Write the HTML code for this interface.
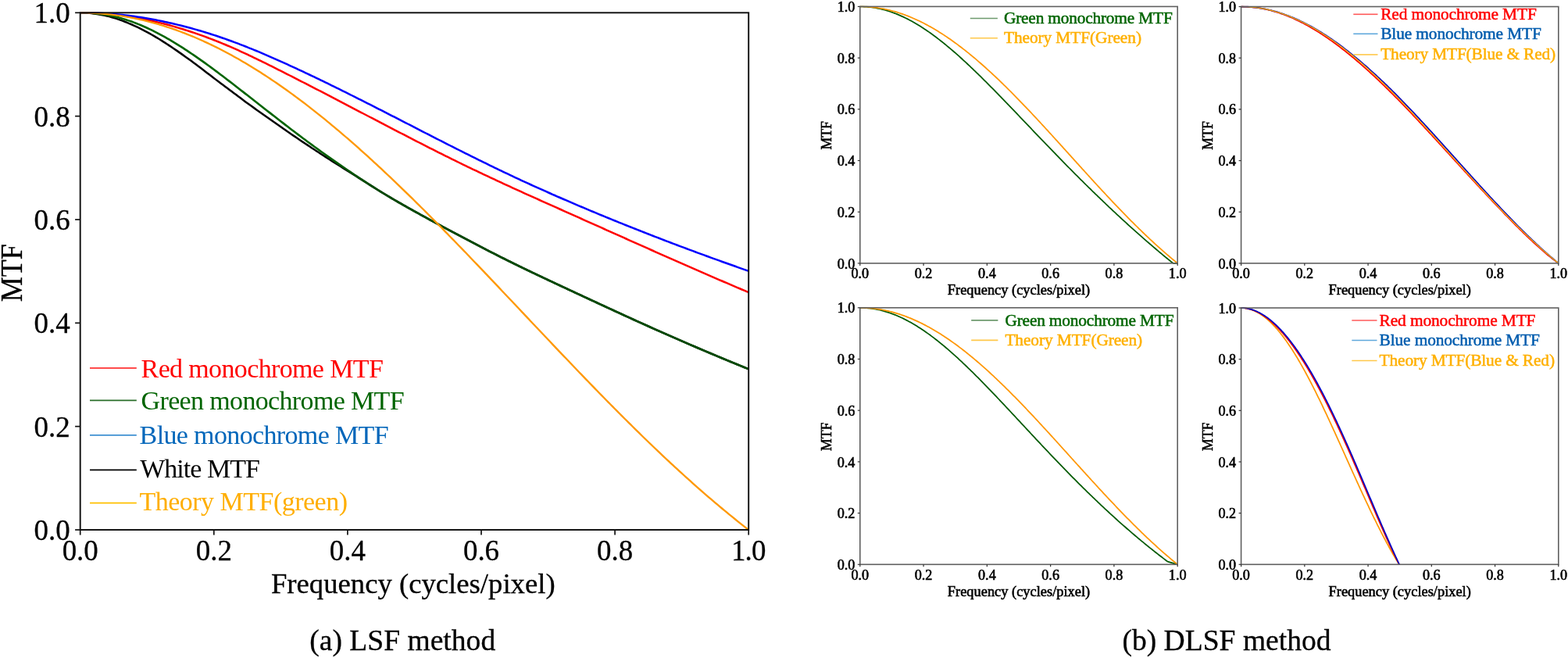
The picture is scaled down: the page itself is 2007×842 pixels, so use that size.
<!DOCTYPE html>
<html><head><meta charset="utf-8"><title>MTF</title>
<style>html,body{margin:0;padding:0;background:#fff;}.bt{stroke:#000;stroke-width:0.3px;}.st{stroke:#000;stroke-width:0.6px;}.sl{stroke-width:0.5px;}body{width:2007px;height:842px;overflow:hidden;position:relative;font-family:'Liberation Serif', serif;}</style>
</head><body>
<svg width="2007" height="842" viewBox="0 0 2007 842" style="position:absolute;left:0;top:0;font-family:'Liberation Serif', serif">
<rect x="0" y="0" width="2007" height="842" fill="#fff"/>
<clipPath id="cl"><rect x="102.7" y="14.8" width="855.5" height="664.7"/></clipPath>
<g clip-path="url(#cl)">
<path d="M102.70,16.30 L105.55,16.31 L108.40,16.34 L111.25,16.38 L114.11,16.45 L116.96,16.53 L119.81,16.64 L122.66,16.76 L125.51,16.91 L128.37,17.07 L131.22,17.25 L134.07,17.46 L136.92,17.68 L139.77,17.93 L142.62,18.19 L145.47,18.48 L148.33,18.79 L151.18,19.12 L154.03,19.48 L156.88,19.85 L159.73,20.25 L162.59,20.67 L165.44,21.12 L168.29,21.58 L171.14,22.06 L173.99,22.57 L176.84,23.09 L179.69,23.63 L182.55,24.20 L185.40,24.78 L188.25,25.37 L191.10,25.99 L193.95,26.62 L196.81,27.27 L199.66,27.94 L202.51,28.63 L205.36,29.34 L208.21,30.06 L211.06,30.80 L213.92,31.55 L216.77,32.32 L219.62,33.11 L222.47,33.92 L225.32,34.74 L228.17,35.58 L231.02,36.43 L233.88,37.30 L236.73,38.19 L239.58,39.09 L242.43,40.01 L245.28,40.95 L248.13,41.91 L250.99,42.88 L253.84,43.87 L256.69,44.87 L259.54,45.89 L262.39,46.93 L265.25,47.99 L268.10,49.06 L270.95,50.15 L273.80,51.25 L276.65,52.38 L279.50,53.51 L282.36,54.67 L285.21,55.84 L288.06,57.02 L290.91,58.23 L293.76,59.45 L296.61,60.68 L299.46,61.93 L302.32,63.20 L305.17,64.48 L308.02,65.78 L310.87,67.09 L313.72,68.41 L316.57,69.74 L319.43,71.08 L322.28,72.43 L325.13,73.79 L327.98,75.16 L330.83,76.53 L333.69,77.92 L336.54,79.32 L339.39,80.72 L342.24,82.13 L345.09,83.54 L347.94,84.97 L350.80,86.40 L353.65,87.83 L356.50,89.27 L359.35,90.71 L362.20,92.15 L365.05,93.60 L367.90,95.05 L370.76,96.50 L373.61,97.95 L376.46,99.41 L379.31,100.86 L382.16,102.32 L385.01,103.78 L387.87,105.24 L390.72,106.70 L393.57,108.17 L396.42,109.63 L399.27,111.10 L402.12,112.56 L404.98,114.03 L407.83,115.50 L410.68,116.98 L413.53,118.45 L416.38,119.93 L419.23,121.41 L422.09,122.89 L424.94,124.38 L427.79,125.86 L430.64,127.35 L433.49,128.84 L436.34,130.33 L439.20,131.82 L442.05,133.32 L444.90,134.81 L447.75,136.31 L450.60,137.80 L453.45,139.29 L456.31,140.79 L459.16,142.28 L462.01,143.77 L464.86,145.26 L467.71,146.76 L470.56,148.25 L473.42,149.74 L476.27,151.23 L479.12,152.72 L481.97,154.20 L484.82,155.69 L487.67,157.18 L490.53,158.66 L493.38,160.15 L496.23,161.63 L499.08,163.11 L501.93,164.59 L504.78,166.07 L507.64,167.55 L510.49,169.03 L513.34,170.50 L516.19,171.98 L519.04,173.45 L521.89,174.92 L524.75,176.39 L527.60,177.86 L530.45,179.33 L533.30,180.79 L536.15,182.25 L539.00,183.72 L541.86,185.17 L544.71,186.63 L547.56,188.08 L550.41,189.53 L553.26,190.98 L556.12,192.42 L558.97,193.86 L561.82,195.29 L564.67,196.72 L567.52,198.15 L570.37,199.57 L573.23,200.99 L576.08,202.40 L578.93,203.81 L581.78,205.21 L584.63,206.61 L587.48,208.00 L590.34,209.39 L593.19,210.77 L596.04,212.15 L598.89,213.53 L601.74,214.90 L604.59,216.26 L607.45,217.63 L610.30,218.98 L613.15,220.34 L616.00,221.69 L618.85,223.04 L621.70,224.39 L624.56,225.73 L627.41,227.07 L630.26,228.41 L633.11,229.74 L635.96,231.07 L638.81,232.39 L641.67,233.72 L644.52,235.04 L647.37,236.35 L650.22,237.67 L653.07,238.97 L655.92,240.28 L658.77,241.58 L661.63,242.88 L664.48,244.18 L667.33,245.48 L670.18,246.77 L673.03,248.06 L675.88,249.35 L678.74,250.63 L681.59,251.91 L684.44,253.20 L687.29,254.47 L690.14,255.75 L693.00,257.03 L695.85,258.31 L698.70,259.58 L701.55,260.86 L704.40,262.13 L707.25,263.41 L710.11,264.69 L712.96,265.96 L715.81,267.24 L718.66,268.51 L721.51,269.79 L724.36,271.06 L727.22,272.34 L730.07,273.62 L732.92,274.89 L735.77,276.17 L738.62,277.44 L741.47,278.72 L744.33,279.99 L747.18,281.27 L750.03,282.55 L752.88,283.82 L755.73,285.10 L758.58,286.37 L761.44,287.65 L764.29,288.92 L767.14,290.20 L769.99,291.47 L772.84,292.75 L775.69,294.03 L778.55,295.30 L781.40,296.58 L784.25,297.85 L787.10,299.13 L789.95,300.40 L792.80,301.68 L795.65,302.96 L798.51,304.23 L801.36,305.51 L804.21,306.78 L807.06,308.05 L809.91,309.33 L812.76,310.60 L815.62,311.87 L818.47,313.15 L821.32,314.42 L824.17,315.69 L827.02,316.96 L829.88,318.23 L832.73,319.50 L835.58,320.76 L838.43,322.03 L841.28,323.30 L844.13,324.56 L846.99,325.82 L849.84,327.09 L852.69,328.35 L855.54,329.61 L858.39,330.87 L861.24,332.13 L864.10,333.39 L866.95,334.64 L869.80,335.90 L872.65,337.16 L875.50,338.41 L878.35,339.66 L881.21,340.91 L884.06,342.16 L886.91,343.41 L889.76,344.66 L892.61,345.91 L895.46,347.15 L898.32,348.40 L901.17,349.64 L904.02,350.88 L906.87,352.12 L909.72,353.36 L912.57,354.59 L915.43,355.83 L918.28,357.06 L921.13,358.29 L923.98,359.52 L926.83,360.74 L929.68,361.97 L932.53,363.19 L935.39,364.41 L938.24,365.63 L941.09,366.85 L943.94,368.06 L946.79,369.27 L949.64,370.48 L952.50,371.69 L955.35,372.90 L958.20,374.10" fill="none" stroke="#ff0000" stroke-width="2.5" stroke-linejoin="round" stroke-linecap="butt"/>
<path d="M102.70,16.30 L105.55,16.35 L108.40,16.46 L111.25,16.62 L114.11,16.84 L116.96,17.11 L119.81,17.43 L122.66,17.80 L125.51,18.22 L128.37,18.68 L131.22,19.20 L134.07,19.78 L136.92,20.43 L139.77,21.15 L142.62,21.93 L145.47,22.77 L148.33,23.67 L151.18,24.62 L154.03,25.62 L156.88,26.66 L159.73,27.74 L162.59,28.86 L165.44,30.04 L168.29,31.26 L171.14,32.54 L173.99,33.85 L176.84,35.22 L179.69,36.62 L182.55,38.07 L185.40,39.56 L188.25,41.09 L191.10,42.66 L193.95,44.26 L196.81,45.90 L199.66,47.58 L202.51,49.28 L205.36,51.03 L208.21,52.82 L211.06,54.63 L213.92,56.48 L216.77,58.36 L219.62,60.27 L222.47,62.20 L225.32,64.15 L228.17,66.13 L231.02,68.12 L233.88,70.13 L236.73,72.15 L239.58,74.19 L242.43,76.23 L245.28,78.31 L248.13,80.42 L250.99,82.54 L253.84,84.69 L256.69,86.85 L259.54,89.03 L262.39,91.21 L265.25,93.40 L268.10,95.59 L270.95,97.78 L273.80,99.96 L276.65,102.13 L279.50,104.28 L282.36,106.42 L285.21,108.56 L288.06,110.69 L290.91,112.82 L293.76,114.95 L296.61,117.08 L299.46,119.21 L302.32,121.35 L305.17,123.48 L308.02,125.62 L310.87,127.76 L313.72,129.88 L316.57,131.97 L319.43,134.04 L322.28,136.09 L325.13,138.13 L327.98,140.16 L330.83,142.19 L333.69,144.22 L336.54,146.26 L339.39,148.29 L342.24,150.32 L345.09,152.33 L347.94,154.35 L350.80,156.35 L353.65,158.35 L356.50,160.35 L359.35,162.34 L362.20,164.33 L365.05,166.30 L367.90,168.27 L370.76,170.23 L373.61,172.18 L376.46,174.12 L379.31,176.06 L382.16,177.99 L385.01,179.92 L387.87,181.84 L390.72,183.75 L393.57,185.66 L396.42,187.55 L399.27,189.44 L402.12,191.32 L404.98,193.20 L407.83,195.07 L410.68,196.93 L413.53,198.79 L416.38,200.64 L419.23,202.47 L422.09,204.30 L424.94,206.11 L427.79,207.91 L430.64,209.70 L433.49,211.49 L436.34,213.28 L439.20,215.07 L442.05,216.86 L444.90,218.64 L447.75,220.42 L450.60,222.20 L453.45,223.99 L456.31,225.79 L459.16,227.58 L462.01,229.36 L464.86,231.15 L467.71,232.95 L470.56,234.78 L473.42,236.60 L476.27,238.42 L479.12,240.21 L481.97,242.00 L484.82,243.77 L487.67,245.52 L490.53,247.26 L493.38,248.99 L496.23,250.70 L499.08,252.40 L501.93,254.08 L504.78,255.75 L507.64,257.41 L510.49,259.06 L513.34,260.70 L516.19,262.33 L519.04,263.94 L521.89,265.55 L524.75,267.15 L527.60,268.74 L530.45,270.33 L533.30,271.91 L536.15,273.48 L539.00,275.05 L541.86,276.62 L544.71,278.18 L547.56,279.74 L550.41,281.29 L553.26,282.84 L556.12,284.39 L558.97,285.93 L561.82,287.47 L564.67,289.01 L567.52,290.54 L570.37,292.07 L573.23,293.60 L576.08,295.12 L578.93,296.64 L581.78,298.16 L584.63,299.68 L587.48,301.19 L590.34,302.70 L593.19,304.21 L596.04,305.72 L598.89,307.22 L601.74,308.72 L604.59,310.21 L607.45,311.71 L610.30,313.19 L613.15,314.68 L616.00,316.16 L618.85,317.64 L621.70,319.11 L624.56,320.58 L627.41,322.04 L630.26,323.50 L633.11,324.96 L635.96,326.41 L638.81,327.85 L641.67,329.29 L644.52,330.72 L647.37,332.14 L650.22,333.56 L653.07,334.98 L655.92,336.39 L658.77,337.79 L661.63,339.19 L664.48,340.58 L667.33,341.97 L670.18,343.35 L673.03,344.72 L675.88,346.10 L678.74,347.46 L681.59,348.83 L684.44,350.18 L687.29,351.54 L690.14,352.89 L693.00,354.24 L695.85,355.58 L698.70,356.92 L701.55,358.26 L704.40,359.60 L707.25,360.94 L710.11,362.28 L712.96,363.61 L715.81,364.95 L718.66,366.28 L721.51,367.61 L724.36,368.94 L727.22,370.27 L730.07,371.60 L732.92,372.93 L735.77,374.26 L738.62,375.59 L741.47,376.91 L744.33,378.24 L747.18,379.56 L750.03,380.89 L752.88,382.21 L755.73,383.54 L758.58,384.86 L761.44,386.18 L764.29,387.50 L767.14,388.82 L769.99,390.14 L772.84,391.46 L775.69,392.78 L778.55,394.09 L781.40,395.41 L784.25,396.72 L787.10,398.04 L789.95,399.35 L792.80,400.66 L795.65,401.97 L798.51,403.28 L801.36,404.58 L804.21,405.89 L807.06,407.19 L809.91,408.49 L812.76,409.78 L815.62,411.08 L818.47,412.37 L821.32,413.66 L824.17,414.95 L827.02,416.23 L829.88,417.51 L832.73,418.79 L835.58,420.07 L838.43,421.34 L841.28,422.61 L844.13,423.88 L846.99,425.14 L849.84,426.40 L852.69,427.66 L855.54,428.92 L858.39,430.17 L861.24,431.42 L864.10,432.67 L866.95,433.91 L869.80,435.16 L872.65,436.40 L875.50,437.63 L878.35,438.87 L881.21,440.10 L884.06,441.33 L886.91,442.55 L889.76,443.77 L892.61,445.00 L895.46,446.21 L898.32,447.43 L901.17,448.64 L904.02,449.85 L906.87,451.06 L909.72,452.26 L912.57,453.46 L915.43,454.66 L918.28,455.86 L921.13,457.05 L923.98,458.24 L926.83,459.43 L929.68,460.61 L932.53,461.79 L935.39,462.97 L938.24,464.15 L941.09,465.32 L943.94,466.49 L946.79,467.66 L949.64,468.82 L952.50,469.99 L955.35,471.14 L958.20,472.30" fill="none" stroke="#000000" stroke-width="2.5" stroke-linejoin="round" stroke-linecap="butt"/>
<path d="M102.70,16.30 L105.55,16.32 L108.40,16.38 L111.25,16.48 L114.11,16.62 L116.96,16.80 L119.81,17.03 L122.66,17.29 L125.51,17.60 L128.37,17.95 L131.22,18.34 L134.07,18.78 L136.92,19.26 L139.77,19.79 L142.62,20.35 L145.47,20.97 L148.33,21.63 L151.18,22.34 L154.03,23.10 L156.88,23.91 L159.73,24.76 L162.59,25.66 L165.44,26.61 L168.29,27.60 L171.14,28.64 L173.99,29.72 L176.84,30.84 L179.69,32.00 L182.55,33.21 L185.40,34.46 L188.25,35.75 L191.10,37.08 L193.95,38.45 L196.81,39.86 L199.66,41.30 L202.51,42.79 L205.36,44.30 L208.21,45.85 L211.06,47.44 L213.92,49.05 L216.77,50.70 L219.62,52.38 L222.47,54.08 L225.32,55.82 L228.17,57.59 L231.02,59.38 L233.88,61.20 L236.73,63.04 L239.58,64.91 L242.43,66.80 L245.28,68.72 L248.13,70.65 L250.99,72.61 L253.84,74.60 L256.69,76.60 L259.54,78.63 L262.39,80.68 L265.25,82.74 L268.10,84.82 L270.95,86.92 L273.80,89.03 L276.65,91.15 L279.50,93.28 L282.36,95.43 L285.21,97.58 L288.06,99.75 L290.91,101.92 L293.76,104.11 L296.61,106.30 L299.46,108.51 L302.32,110.72 L305.17,112.94 L308.02,115.16 L310.87,117.39 L313.72,119.62 L316.57,121.85 L319.43,124.08 L322.28,126.31 L325.13,128.54 L327.98,130.78 L330.83,133.00 L333.69,135.23 L336.54,137.46 L339.39,139.68 L342.24,141.91 L345.09,144.13 L347.94,146.35 L350.80,148.56 L353.65,150.78 L356.50,152.99 L359.35,155.19 L362.20,157.40 L365.05,159.60 L367.90,161.80 L370.76,163.98 L373.61,166.17 L376.46,168.34 L379.31,170.50 L382.16,172.66 L385.01,174.81 L387.87,176.94 L390.72,179.07 L393.57,181.19 L396.42,183.29 L399.27,185.39 L402.12,187.48 L404.98,189.56 L407.83,191.63 L410.68,193.69 L413.53,195.74 L416.38,197.79 L419.23,199.82 L422.09,201.85 L424.94,203.87 L427.79,205.88 L430.64,207.88 L433.49,209.87 L436.34,211.85 L439.20,213.82 L442.05,215.78 L444.90,217.74 L447.75,219.68 L450.60,221.61 L453.45,223.53 L456.31,225.44 L459.16,227.33 L462.01,229.21 L464.86,231.08 L467.71,232.94 L470.56,234.78 L473.42,236.60 L476.27,238.42 L479.12,240.21 L481.97,242.00 L484.82,243.77 L487.67,245.52 L490.53,247.26 L493.38,248.99 L496.23,250.70 L499.08,252.40 L501.93,254.08 L504.78,255.75 L507.64,257.41 L510.49,259.06 L513.34,260.70 L516.19,262.33 L519.04,263.94 L521.89,265.55 L524.75,267.15 L527.60,268.74 L530.45,270.33 L533.30,271.91 L536.15,273.48 L539.00,275.05 L541.86,276.62 L544.71,278.18 L547.56,279.74 L550.41,281.29 L553.26,282.84 L556.12,284.39 L558.97,285.93 L561.82,287.47 L564.67,289.01 L567.52,290.54 L570.37,292.07 L573.23,293.60 L576.08,295.12 L578.93,296.64 L581.78,298.16 L584.63,299.68 L587.48,301.19 L590.34,302.70 L593.19,304.21 L596.04,305.72 L598.89,307.22 L601.74,308.72 L604.59,310.21 L607.45,311.71 L610.30,313.19 L613.15,314.68 L616.00,316.16 L618.85,317.64 L621.70,319.11 L624.56,320.58 L627.41,322.04 L630.26,323.50 L633.11,324.96 L635.96,326.41 L638.81,327.85 L641.67,329.29 L644.52,330.72 L647.37,332.14 L650.22,333.56 L653.07,334.98 L655.92,336.39 L658.77,337.79 L661.63,339.19 L664.48,340.58 L667.33,341.97 L670.18,343.35 L673.03,344.72 L675.88,346.10 L678.74,347.46 L681.59,348.83 L684.44,350.18 L687.29,351.54 L690.14,352.89 L693.00,354.24 L695.85,355.58 L698.70,356.92 L701.55,358.26 L704.40,359.60 L707.25,360.94 L710.11,362.28 L712.96,363.61 L715.81,364.95 L718.66,366.28 L721.51,367.61 L724.36,368.94 L727.22,370.27 L730.07,371.60 L732.92,372.93 L735.77,374.26 L738.62,375.59 L741.47,376.91 L744.33,378.24 L747.18,379.56 L750.03,380.89 L752.88,382.21 L755.73,383.54 L758.58,384.86 L761.44,386.18 L764.29,387.50 L767.14,388.82 L769.99,390.14 L772.84,391.46 L775.69,392.78 L778.55,394.09 L781.40,395.41 L784.25,396.72 L787.10,398.04 L789.95,399.35 L792.80,400.66 L795.65,401.97 L798.51,403.28 L801.36,404.58 L804.21,405.89 L807.06,407.19 L809.91,408.49 L812.76,409.78 L815.62,411.08 L818.47,412.37 L821.32,413.66 L824.17,414.95 L827.02,416.23 L829.88,417.51 L832.73,418.79 L835.58,420.07 L838.43,421.34 L841.28,422.61 L844.13,423.88 L846.99,425.14 L849.84,426.40 L852.69,427.66 L855.54,428.92 L858.39,430.17 L861.24,431.42 L864.10,432.67 L866.95,433.91 L869.80,435.16 L872.65,436.40 L875.50,437.63 L878.35,438.87 L881.21,440.10 L884.06,441.33 L886.91,442.55 L889.76,443.77 L892.61,445.00 L895.46,446.21 L898.32,447.43 L901.17,448.64 L904.02,449.85 L906.87,451.06 L909.72,452.26 L912.57,453.46 L915.43,454.66 L918.28,455.86 L921.13,457.05 L923.98,458.24 L926.83,459.43 L929.68,460.61 L932.53,461.79 L935.39,462.97 L938.24,464.15 L941.09,465.32 L943.94,466.49 L946.79,467.66 L949.64,468.82 L952.50,469.99 L955.35,471.14 L958.20,472.30" fill="none" stroke="#006400" stroke-width="2.6" stroke-linejoin="round" stroke-linecap="butt"/>
<linearGradient id="mg" gradientUnits="userSpaceOnUse" x1="405" y1="0" x2="475" y2="0"><stop offset="0" stop-color="#000" stop-opacity="0"/><stop offset="1" stop-color="#000" stop-opacity="0.25"/></linearGradient>
<path d="M405.00,189.57 L407.51,191.40 L410.03,193.22 L412.54,195.03 L415.06,196.84 L417.57,198.64 L420.09,200.43 L422.60,202.21 L425.12,203.99 L427.63,205.76 L430.15,207.53 L432.66,209.29 L435.17,211.04 L437.69,212.78 L440.20,214.51 L442.72,216.24 L445.23,217.96 L447.75,219.67 L450.26,221.38 L452.78,223.07 L455.29,224.76 L457.81,226.43 L460.32,228.10 L462.83,229.75 L465.35,231.40 L467.86,233.03 L470.38,234.66 L472.89,236.27 L475.41,237.87 L477.92,239.46 L480.44,241.04 L482.95,242.61 L485.47,244.16 L487.98,245.71 L490.49,247.24 L493.01,248.76 L495.52,250.27 L498.04,251.78 L500.55,253.27 L503.07,254.75 L505.58,256.22 L508.10,257.68 L510.61,259.13 L513.13,260.58 L515.64,262.01 L518.15,263.44 L520.67,264.86 L523.18,266.27 L525.70,267.68 L528.21,269.08 L530.73,270.48 L533.24,271.88 L535.76,273.26 L538.27,274.65 L540.79,276.03 L543.30,277.41 L545.81,278.79 L548.33,280.16 L550.84,281.53 L553.36,282.89 L555.87,284.26 L558.39,285.62 L560.90,286.98 L563.42,288.33 L565.93,289.69 L568.45,291.04 L570.96,292.39 L573.47,293.73 L575.99,295.08 L578.50,296.42 L581.02,297.76 L583.53,299.10 L586.05,300.43 L588.56,301.77 L591.08,303.10 L593.59,304.43 L596.11,305.75 L598.62,307.08 L601.13,308.40 L603.65,309.72 L606.16,311.03 L608.68,312.35 L611.19,313.66 L613.71,314.97 L616.22,316.28 L618.74,317.58 L621.25,318.88 L623.77,320.17 L626.28,321.47 L628.79,322.75 L631.31,324.04 L633.82,325.32 L636.34,326.60 L638.85,327.87 L641.37,329.14 L643.88,330.40 L646.40,331.66 L648.91,332.91 L651.43,334.16 L653.94,335.41 L656.45,336.65 L658.97,337.89 L661.48,339.12 L664.00,340.35 L666.51,341.57 L669.03,342.79 L671.54,344.01 L674.06,345.22 L676.57,346.43 L679.09,347.63 L681.60,348.83 L684.11,350.03 L686.63,351.22 L689.14,352.42 L691.66,353.61 L694.17,354.79 L696.69,355.98 L699.20,357.16 L701.72,358.34 L704.23,359.52 L706.75,360.70 L709.26,361.88 L711.77,363.06 L714.29,364.24 L716.80,365.41 L719.32,366.59 L721.83,367.76 L724.35,368.93 L726.86,370.11 L729.38,371.28 L731.89,372.45 L734.41,373.62 L736.92,374.79 L739.43,375.96 L741.95,377.13 L744.46,378.30 L746.98,379.47 L749.49,380.64 L752.01,381.81 L754.52,382.97 L757.04,384.14 L759.55,385.31 L762.07,386.47 L764.58,387.64 L767.09,388.80 L769.61,389.96 L772.12,391.13 L774.64,392.29 L777.15,393.45 L779.67,394.61 L782.18,395.77 L784.70,396.93 L787.21,398.09 L789.73,399.25 L792.24,400.40 L794.75,401.56 L797.27,402.71 L799.78,403.86 L802.30,405.01 L804.81,406.16 L807.33,407.31 L809.84,408.45 L812.36,409.60 L814.87,410.74 L817.39,411.88 L819.90,413.02 L822.41,414.15 L824.93,415.29 L827.44,416.42 L829.96,417.55 L832.47,418.68 L834.99,419.80 L837.50,420.93 L840.02,422.05 L842.53,423.17 L845.05,424.28 L847.56,425.40 L850.07,426.51 L852.59,427.62 L855.10,428.73 L857.62,429.83 L860.13,430.94 L862.65,432.04 L865.16,433.14 L867.68,434.23 L870.19,435.33 L872.71,436.42 L875.22,437.51 L877.73,438.60 L880.25,439.68 L882.76,440.77 L885.28,441.85 L887.79,442.93 L890.31,444.01 L892.82,445.09 L895.34,446.16 L897.85,447.23 L900.37,448.30 L902.88,449.37 L905.39,450.43 L907.91,451.50 L910.42,452.56 L912.94,453.62 L915.45,454.67 L917.97,455.73 L920.48,456.78 L923.00,457.83 L925.51,458.88 L928.03,459.92 L930.54,460.97 L933.05,462.01 L935.57,463.05 L938.08,464.08 L940.60,465.12 L943.11,466.15 L945.63,467.18 L948.14,468.21 L950.66,469.24 L953.17,470.26 L955.69,471.28 L958.20,472.30" fill="none" stroke="url(#mg)" stroke-width="2.9"/>
<path d="M102.70,16.30 L105.55,16.31 L108.40,16.33 L111.25,16.36 L114.11,16.41 L116.96,16.48 L119.81,16.56 L122.66,16.65 L125.51,16.76 L128.37,16.89 L131.22,17.03 L134.07,17.19 L136.92,17.36 L139.77,17.56 L142.62,17.76 L145.47,17.99 L148.33,18.23 L151.18,18.49 L154.03,18.77 L156.88,19.07 L159.73,19.38 L162.59,19.72 L165.44,20.07 L168.29,20.44 L171.14,20.83 L173.99,21.23 L176.84,21.65 L179.69,22.09 L182.55,22.54 L185.40,23.01 L188.25,23.49 L191.10,23.99 L193.95,24.50 L196.81,25.03 L199.66,25.58 L202.51,26.14 L205.36,26.71 L208.21,27.30 L211.06,27.91 L213.92,28.53 L216.77,29.16 L219.62,29.81 L222.47,30.47 L225.32,31.15 L228.17,31.84 L231.02,32.54 L233.88,33.26 L236.73,34.00 L239.58,34.75 L242.43,35.51 L245.28,36.29 L248.13,37.08 L250.99,37.89 L253.84,38.71 L256.69,39.54 L259.54,40.39 L262.39,41.26 L265.25,42.14 L268.10,43.03 L270.95,43.94 L273.80,44.86 L276.65,45.80 L279.50,46.75 L282.36,47.72 L285.21,48.70 L288.06,49.69 L290.91,50.70 L293.76,51.72 L296.61,52.76 L299.46,53.81 L302.32,54.87 L305.17,55.95 L308.02,57.05 L310.87,58.15 L313.72,59.27 L316.57,60.40 L319.43,61.54 L322.28,62.69 L325.13,63.85 L327.98,65.02 L330.83,66.21 L333.69,67.40 L336.54,68.61 L339.39,69.83 L342.24,71.05 L345.09,72.29 L347.94,73.53 L350.80,74.78 L353.65,76.05 L356.50,77.32 L359.35,78.59 L362.20,79.88 L365.05,81.17 L367.90,82.47 L370.76,83.77 L373.61,85.08 L376.46,86.39 L379.31,87.72 L382.16,89.04 L385.01,90.37 L387.87,91.71 L390.72,93.05 L393.57,94.40 L396.42,95.75 L399.27,97.11 L402.12,98.47 L404.98,99.83 L407.83,101.20 L410.68,102.58 L413.53,103.96 L416.38,105.34 L419.23,106.73 L422.09,108.12 L424.94,109.52 L427.79,110.92 L430.64,112.33 L433.49,113.73 L436.34,115.15 L439.20,116.56 L442.05,117.98 L444.90,119.40 L447.75,120.83 L450.60,122.25 L453.45,123.68 L456.31,125.11 L459.16,126.55 L462.01,127.98 L464.86,129.42 L467.71,130.86 L470.56,132.30 L473.42,133.74 L476.27,135.19 L479.12,136.63 L481.97,138.08 L484.82,139.53 L487.67,140.98 L490.53,142.44 L493.38,143.89 L496.23,145.35 L499.08,146.81 L501.93,148.27 L504.78,149.73 L507.64,151.19 L510.49,152.65 L513.34,154.12 L516.19,155.58 L519.04,157.05 L521.89,158.51 L524.75,159.98 L527.60,161.45 L530.45,162.91 L533.30,164.38 L536.15,165.85 L539.00,167.31 L541.86,168.78 L544.71,170.24 L547.56,171.70 L550.41,173.17 L553.26,174.63 L556.12,176.09 L558.97,177.54 L561.82,179.00 L564.67,180.45 L567.52,181.90 L570.37,183.35 L573.23,184.80 L576.08,186.25 L578.93,187.69 L581.78,189.13 L584.63,190.56 L587.48,192.00 L590.34,193.43 L593.19,194.86 L596.04,196.28 L598.89,197.71 L601.74,199.13 L604.59,200.54 L607.45,201.96 L610.30,203.37 L613.15,204.78 L616.00,206.18 L618.85,207.58 L621.70,208.98 L624.56,210.38 L627.41,211.77 L630.26,213.16 L633.11,214.54 L635.96,215.92 L638.81,217.29 L641.67,218.66 L644.52,220.03 L647.37,221.39 L650.22,222.74 L653.07,224.09 L655.92,225.44 L658.77,226.78 L661.63,228.11 L664.48,229.44 L667.33,230.77 L670.18,232.08 L673.03,233.40 L675.88,234.70 L678.74,236.01 L681.59,237.30 L684.44,238.60 L687.29,239.88 L690.14,241.17 L693.00,242.44 L695.85,243.72 L698.70,244.98 L701.55,246.25 L704.40,247.51 L707.25,248.77 L710.11,250.02 L712.96,251.27 L715.81,252.51 L718.66,253.75 L721.51,254.99 L724.36,256.22 L727.22,257.45 L730.07,258.68 L732.92,259.90 L735.77,261.12 L738.62,262.33 L741.47,263.55 L744.33,264.76 L747.18,265.96 L750.03,267.16 L752.88,268.36 L755.73,269.55 L758.58,270.75 L761.44,271.93 L764.29,273.12 L767.14,274.30 L769.99,275.48 L772.84,276.65 L775.69,277.82 L778.55,278.99 L781.40,280.16 L784.25,281.32 L787.10,282.48 L789.95,283.64 L792.80,284.79 L795.65,285.94 L798.51,287.08 L801.36,288.23 L804.21,289.37 L807.06,290.51 L809.91,291.64 L812.76,292.77 L815.62,293.90 L818.47,295.03 L821.32,296.15 L824.17,297.27 L827.02,298.39 L829.88,299.50 L832.73,300.61 L835.58,301.72 L838.43,302.82 L841.28,303.93 L844.13,305.03 L846.99,306.13 L849.84,307.22 L852.69,308.31 L855.54,309.40 L858.39,310.49 L861.24,311.57 L864.10,312.65 L866.95,313.73 L869.80,314.80 L872.65,315.88 L875.50,316.95 L878.35,318.01 L881.21,319.08 L884.06,320.14 L886.91,321.20 L889.76,322.25 L892.61,323.31 L895.46,324.36 L898.32,325.41 L901.17,326.45 L904.02,327.49 L906.87,328.53 L909.72,329.57 L912.57,330.60 L915.43,331.64 L918.28,332.67 L921.13,333.69 L923.98,334.72 L926.83,335.74 L929.68,336.76 L932.53,337.77 L935.39,338.79 L938.24,339.80 L941.09,340.80 L943.94,341.81 L946.79,342.81 L949.64,343.81 L952.50,344.81 L955.35,345.81 L958.20,346.80" fill="none" stroke="#0000ff" stroke-width="2.5" stroke-linejoin="round" stroke-linecap="butt"/>
<path d="M102.70,16.30 L105.55,16.31 L108.40,16.35 L111.25,16.41 L114.11,16.49 L116.96,16.60 L119.81,16.74 L122.66,16.89 L125.51,17.07 L128.37,17.28 L131.22,17.51 L134.07,17.76 L136.92,18.04 L139.77,18.34 L142.62,18.67 L145.48,19.02 L148.33,19.39 L151.18,19.79 L154.03,20.21 L156.88,20.66 L159.73,21.13 L162.59,21.62 L165.44,22.14 L168.29,22.68 L171.14,23.24 L173.99,23.83 L176.84,24.45 L179.69,25.08 L182.55,25.74 L185.40,26.42 L188.25,27.13 L191.10,27.86 L193.95,28.61 L196.81,29.39 L199.66,30.19 L202.51,31.02 L205.36,31.86 L208.21,32.73 L211.06,33.63 L213.92,34.54 L216.77,35.48 L219.62,36.44 L222.47,37.43 L225.32,38.44 L228.17,39.47 L231.03,40.52 L233.88,41.60 L236.73,42.69 L239.58,43.81 L242.43,44.96 L245.28,46.12 L248.13,47.31 L250.99,48.52 L253.84,49.75 L256.69,51.01 L259.54,52.28 L262.39,53.58 L265.25,54.90 L268.10,56.24 L270.95,57.60 L273.80,58.99 L276.65,60.39 L279.50,61.82 L282.36,63.27 L285.21,64.74 L288.06,66.23 L290.91,67.74 L293.76,69.27 L296.61,70.82 L299.47,72.39 L302.32,73.99 L305.17,75.60 L308.02,77.24 L310.87,78.89 L313.72,80.57 L316.57,82.26 L319.43,83.98 L322.28,85.71 L325.13,87.46 L327.98,89.24 L330.83,91.03 L333.69,92.84 L336.54,94.67 L339.39,96.52 L342.24,98.39 L345.09,100.28 L347.94,102.19 L350.80,104.11 L353.65,106.06 L356.50,108.02 L359.35,110.00 L362.20,112.00 L365.05,114.02 L367.90,116.05 L370.76,118.10 L373.61,120.17 L376.46,122.26 L379.31,124.36 L382.16,126.48 L385.01,128.62 L387.87,130.78 L390.72,132.95 L393.57,135.14 L396.42,137.34 L399.27,139.57 L402.12,141.80 L404.98,144.06 L407.83,146.33 L410.68,148.61 L413.53,150.91 L416.38,153.23 L419.24,155.56 L422.09,157.91 L424.94,160.27 L427.79,162.65 L430.64,165.04 L433.49,167.44 L436.35,169.86 L439.20,172.30 L442.05,174.75 L444.90,177.21 L447.75,179.68 L450.60,182.17 L453.46,184.68 L456.31,187.19 L459.16,189.72 L462.01,192.27 L464.86,194.82 L467.71,197.39 L470.57,199.97 L473.42,202.56 L476.27,205.17 L479.12,207.78 L481.97,210.41 L484.82,213.05 L487.68,215.71 L490.53,218.37 L493.38,221.04 L496.23,223.73 L499.08,226.42 L501.93,229.13 L504.79,231.85 L507.64,234.58 L510.49,237.31 L513.34,240.06 L516.19,242.82 L519.04,245.59 L521.90,248.36 L524.75,251.15 L527.60,253.94 L530.45,256.75 L533.30,259.56 L536.15,262.38 L539.00,265.21 L541.86,268.05 L544.71,270.90 L547.56,273.75 L550.41,276.61 L553.26,279.48 L556.12,282.36 L558.97,285.24 L561.82,288.13 L564.67,291.03 L567.52,293.93 L570.37,296.84 L573.23,299.76 L576.08,302.68 L578.93,305.61 L581.78,308.54 L584.63,311.48 L587.48,314.43 L590.34,317.38 L593.19,320.34 L596.04,323.30 L598.89,326.26 L601.74,329.23 L604.59,332.20 L607.45,335.18 L610.30,338.16 L613.15,341.15 L616.00,344.14 L618.85,347.13 L621.70,350.13 L624.56,353.13 L627.41,356.13 L630.26,359.13 L633.11,362.14 L635.96,365.15 L638.81,368.16 L641.67,371.17 L644.52,374.19 L647.37,377.20 L650.22,380.22 L653.07,383.24 L655.92,386.26 L658.78,389.28 L661.63,392.30 L664.48,395.32 L667.33,398.34 L670.18,401.37 L673.03,404.39 L675.89,407.41 L678.74,410.43 L681.59,413.45 L684.44,416.47 L687.29,419.49 L690.14,422.51 L693.00,425.53 L695.85,428.55 L698.70,431.56 L701.55,434.57 L704.40,437.58 L707.25,440.59 L710.11,443.60 L712.96,446.60 L715.81,449.60 L718.66,452.60 L721.51,455.59 L724.36,458.58 L727.22,461.57 L730.07,464.56 L732.92,467.54 L735.77,470.51 L738.62,473.49 L741.47,476.46 L744.33,479.42 L747.18,482.38 L750.03,485.34 L752.88,488.29 L755.73,491.23 L758.58,494.17 L761.44,497.10 L764.29,500.03 L767.14,502.96 L769.99,505.87 L772.84,508.79 L775.69,511.69 L778.55,514.59 L781.40,517.48 L784.25,520.37 L787.10,523.25 L789.95,526.12 L792.80,528.98 L795.66,531.84 L798.51,534.69 L801.36,537.53 L804.21,540.37 L807.06,543.19 L809.91,546.01 L812.77,548.82 L815.62,551.62 L818.47,554.42 L821.32,557.20 L824.17,559.98 L827.02,562.75 L829.88,565.50 L832.73,568.25 L835.58,570.99 L838.43,573.72 L841.28,576.44 L844.13,579.15 L846.99,581.85 L849.84,584.54 L852.69,587.22 L855.54,589.89 L858.39,592.55 L861.24,595.20 L864.10,597.83 L866.95,600.46 L869.80,603.08 L872.65,605.68 L875.50,608.27 L878.35,610.86 L881.21,613.43 L884.06,615.98 L886.91,618.53 L889.76,621.06 L892.61,623.59 L895.46,626.10 L898.32,628.60 L901.17,631.08 L904.02,633.55 L906.87,636.01 L909.72,638.46 L912.57,640.90 L915.43,643.32 L918.28,645.73 L921.13,648.12 L923.98,650.50 L926.83,652.87 L929.68,655.22 L932.54,657.57 L935.39,659.89 L938.24,662.21 L941.09,664.50 L943.94,666.79 L946.79,669.06 L949.65,671.32 L952.50,673.56 L955.35,675.79 L958.20,678.00" fill="none" stroke="#ff9800" stroke-width="2.3" stroke-linejoin="round" stroke-linecap="butt"/>
</g>
<rect x="102.7" y="16.3" width="855.50" height="661.70" fill="none" stroke="#111" stroke-width="1.95"/>
<line x1="102.70" y1="678.0" x2="102.70" y2="684.6" stroke="#111" stroke-width="1.7"/>
<line x1="96.10000000000001" y1="678.00" x2="102.7" y2="678.00" stroke="#111" stroke-width="1.7"/>
<text class="bt" x="102.70" y="717.2" font-size="36.9" text-anchor="middle" fill="#000">0.0</text>
<text class="bt" x="89.6" y="691.00" font-size="36.9" text-anchor="end" fill="#000">0.0</text>
<line x1="273.80" y1="678.0" x2="273.80" y2="684.6" stroke="#111" stroke-width="1.7"/>
<line x1="96.10000000000001" y1="545.66" x2="102.7" y2="545.66" stroke="#111" stroke-width="1.7"/>
<text class="bt" x="273.80" y="717.2" font-size="36.9" text-anchor="middle" fill="#000">0.2</text>
<text class="bt" x="89.6" y="558.66" font-size="36.9" text-anchor="end" fill="#000">0.2</text>
<line x1="444.90" y1="678.0" x2="444.90" y2="684.6" stroke="#111" stroke-width="1.7"/>
<line x1="96.10000000000001" y1="413.32" x2="102.7" y2="413.32" stroke="#111" stroke-width="1.7"/>
<text class="bt" x="444.90" y="717.2" font-size="36.9" text-anchor="middle" fill="#000">0.4</text>
<text class="bt" x="89.6" y="426.32" font-size="36.9" text-anchor="end" fill="#000">0.4</text>
<line x1="616.00" y1="678.0" x2="616.00" y2="684.6" stroke="#111" stroke-width="1.7"/>
<line x1="96.10000000000001" y1="280.98" x2="102.7" y2="280.98" stroke="#111" stroke-width="1.7"/>
<text class="bt" x="616.00" y="717.2" font-size="36.9" text-anchor="middle" fill="#000">0.6</text>
<text class="bt" x="89.6" y="293.98" font-size="36.9" text-anchor="end" fill="#000">0.6</text>
<line x1="787.10" y1="678.0" x2="787.10" y2="684.6" stroke="#111" stroke-width="1.7"/>
<line x1="96.10000000000001" y1="148.64" x2="102.7" y2="148.64" stroke="#111" stroke-width="1.7"/>
<text class="bt" x="787.10" y="717.2" font-size="36.9" text-anchor="middle" fill="#000">0.8</text>
<text class="bt" x="89.6" y="161.64" font-size="36.9" text-anchor="end" fill="#000">0.8</text>
<line x1="958.20" y1="678.0" x2="958.20" y2="684.6" stroke="#111" stroke-width="1.7"/>
<line x1="96.10000000000001" y1="16.30" x2="102.7" y2="16.30" stroke="#111" stroke-width="1.7"/>
<text class="bt" x="957.75" y="717.2" font-size="36.9" text-anchor="middle" fill="#000" letter-spacing="-0.9">1.0</text>
<text class="bt" x="89.6" y="29.30" font-size="36.9" text-anchor="end" fill="#000">1.0</text>
<text class="bt" x="528.8" y="759.2" font-size="36.7" text-anchor="middle" fill="#000">Frequency (cycles/pixel)</text>
<text class="bt" transform="translate(28.0,349.3) rotate(-90) scale(0.985,1.08)" font-size="36.6" text-anchor="middle" fill="#000">MTF</text>
<text class="bt" x="515.2" y="831.5" font-size="37.6" text-anchor="middle" fill="#000">(a) LSF method</text>
<text class="bt" x="1570" y="831.5" font-size="37.6" text-anchor="middle" fill="#000">(b) DLSF method</text>
<line x1="115" y1="471.0" x2="174.8" y2="471.0" stroke="#ff1010" stroke-width="1.7"/>
<text x="180.6" y="483.0" font-size="34" fill="#ff0000" textLength="310.2" lengthAdjust="spacing">Red monochrome MTF</text>
<line x1="115" y1="512.4" x2="174.8" y2="512.4" stroke="#2a6e2a" stroke-width="1.7"/>
<text x="180.6" y="524.2" font-size="34" fill="#006400" textLength="337.0" lengthAdjust="spacing">Green monochrome MTF</text>
<line x1="115" y1="556.9" x2="174.8" y2="556.9" stroke="#3f90d2" stroke-width="1.7"/>
<text x="178.6" y="568.1" font-size="34" fill="#0066ba" textLength="319.0" lengthAdjust="spacing">Blue monochrome MTF</text>
<line x1="115" y1="601.4" x2="174.8" y2="601.4" stroke="#000000" stroke-width="1.7"/>
<text x="179.2" y="610.5" font-size="34" fill="#000000" textLength="153.8" lengthAdjust="spacing">White MTF</text>
<line x1="115" y1="643.6" x2="174.8" y2="643.6" stroke="#ffc000" stroke-width="1.7"/>
<text x="178.5" y="653.4" font-size="34" fill="#ffae00" textLength="266.5" lengthAdjust="spacing">Theory MTF(green)</text>
<clipPath id="c1109"><rect x="1100.8" y="7.4" width="407.4000000000001" height="330.5"/></clipPath>
<g clip-path="url(#c1109)">
<path d="M1100.80,8.40 L1102.49,8.41 L1104.19,8.45 L1105.88,8.51 L1107.57,8.60 L1109.27,8.71 L1110.96,8.85 L1112.65,9.02 L1114.35,9.21 L1116.04,9.42 L1117.73,9.66 L1119.43,9.92 L1121.12,10.21 L1122.81,10.53 L1124.51,10.86 L1126.20,11.23 L1127.89,11.62 L1129.59,12.03 L1131.28,12.47 L1132.97,12.93 L1134.67,13.42 L1136.36,13.93 L1138.05,14.46 L1139.75,15.02 L1141.44,15.60 L1143.13,16.21 L1144.83,16.84 L1146.52,17.49 L1148.21,18.17 L1149.91,18.87 L1151.60,19.59 L1153.29,20.34 L1154.99,21.11 L1156.68,21.90 L1158.37,22.71 L1160.07,23.54 L1161.76,24.40 L1163.45,25.28 L1165.15,26.18 L1166.84,27.10 L1168.53,28.04 L1170.23,29.00 L1171.92,29.98 L1173.61,30.99 L1175.31,32.01 L1177.00,33.05 L1178.69,34.11 L1180.39,35.20 L1182.08,36.30 L1183.77,37.41 L1185.47,38.55 L1187.16,39.71 L1188.85,40.88 L1190.55,42.07 L1192.24,43.28 L1193.93,44.51 L1195.63,45.75 L1197.32,47.01 L1199.01,48.28 L1200.71,49.58 L1202.40,50.88 L1204.09,52.21 L1205.79,53.55 L1207.48,54.90 L1209.17,56.27 L1210.87,57.65 L1212.56,59.05 L1214.25,60.46 L1215.95,61.88 L1217.64,63.32 L1219.33,64.77 L1221.03,66.23 L1222.72,67.71 L1224.41,69.20 L1226.11,70.70 L1227.80,72.21 L1229.49,73.73 L1231.19,75.26 L1232.88,76.81 L1234.57,78.36 L1236.27,79.93 L1237.96,81.50 L1239.65,83.09 L1241.35,84.68 L1243.04,86.29 L1244.73,87.90 L1246.43,89.52 L1248.12,91.15 L1249.81,92.79 L1251.51,94.43 L1253.20,96.08 L1254.89,97.74 L1256.59,99.41 L1258.28,101.09 L1259.97,102.77 L1261.67,104.45 L1263.36,106.15 L1265.05,107.84 L1266.75,109.55 L1268.44,111.26 L1270.13,112.97 L1271.83,114.69 L1273.52,116.42 L1275.21,118.14 L1276.91,119.88 L1278.60,121.61 L1280.29,123.35 L1281.99,125.10 L1283.68,126.85 L1285.37,128.60 L1287.07,130.35 L1288.76,132.11 L1290.45,133.86 L1292.15,135.63 L1293.84,137.39 L1295.53,139.15 L1297.23,140.92 L1298.92,142.69 L1300.61,144.46 L1302.31,146.23 L1304.00,148.00 L1305.69,149.78 L1307.39,151.55 L1309.08,153.32 L1310.77,155.10 L1312.47,156.87 L1314.16,158.65 L1315.85,160.42 L1317.55,162.20 L1319.24,163.97 L1320.93,165.75 L1322.63,167.52 L1324.32,169.29 L1326.01,171.07 L1327.71,172.84 L1329.40,174.61 L1331.09,176.37 L1332.79,178.14 L1334.48,179.91 L1336.17,181.67 L1337.87,183.43 L1339.56,185.19 L1341.25,186.95 L1342.95,188.71 L1344.64,190.46 L1346.33,192.21 L1348.03,193.96 L1349.72,195.71 L1351.41,197.46 L1353.11,199.20 L1354.80,200.94 L1356.49,202.68 L1358.19,204.41 L1359.88,206.14 L1361.57,207.87 L1363.27,209.60 L1364.96,211.32 L1366.65,213.04 L1368.35,214.75 L1370.04,216.47 L1371.73,218.18 L1373.43,219.88 L1375.12,221.59 L1376.81,223.28 L1378.51,224.98 L1380.20,226.67 L1381.89,228.36 L1383.59,230.05 L1385.28,231.73 L1386.97,233.41 L1388.67,235.08 L1390.36,236.75 L1392.05,238.42 L1393.75,240.08 L1395.44,241.74 L1397.13,243.39 L1398.83,245.04 L1400.52,246.69 L1402.21,248.33 L1403.91,249.97 L1405.60,251.60 L1407.29,253.23 L1408.99,254.86 L1410.68,256.48 L1412.37,258.10 L1414.07,259.72 L1415.76,261.33 L1417.45,262.93 L1419.15,264.53 L1420.84,266.13 L1422.53,267.72 L1424.23,269.31 L1425.92,270.90 L1427.61,272.48 L1429.31,274.05 L1431.00,275.62 L1432.69,277.19 L1434.39,278.75 L1436.08,280.31 L1437.77,281.86 L1439.47,283.41 L1441.16,284.96 L1442.85,286.50 L1444.55,288.04 L1446.24,289.57 L1447.93,291.09 L1449.63,292.62 L1451.32,294.13 L1453.01,295.65 L1454.71,297.16 L1456.40,298.66 L1458.09,300.16 L1459.79,301.66 L1461.48,303.15 L1463.17,304.63 L1464.87,306.11 L1466.56,307.59 L1468.25,309.06 L1469.95,310.52 L1471.64,311.98 L1473.33,313.44 L1475.03,314.89 L1476.72,316.34 L1478.41,317.78 L1480.11,319.21 L1481.80,320.64 L1483.49,322.07 L1485.19,323.49 L1486.88,324.90 L1488.57,326.31 L1490.27,327.71 L1491.96,329.11 L1493.65,330.50 L1495.35,331.89 L1497.04,333.27 L1498.73,334.64 L1500.43,336.01 L1502.12,336.90 L1503.81,336.90 L1505.51,336.90 L1507.20,336.90" fill="none" stroke="#005a00" stroke-width="1.75" stroke-linejoin="round" stroke-linecap="butt"/>
<path d="M1100.80,8.40 L1102.49,8.41 L1104.19,8.44 L1105.88,8.48 L1107.57,8.55 L1109.27,8.63 L1110.96,8.74 L1112.65,8.86 L1114.35,9.00 L1116.04,9.16 L1117.73,9.34 L1119.43,9.53 L1121.12,9.75 L1122.81,9.98 L1124.51,10.24 L1126.20,10.51 L1127.89,10.80 L1129.59,11.10 L1131.28,11.43 L1132.97,11.78 L1134.67,12.14 L1136.36,12.52 L1138.05,12.92 L1139.75,13.34 L1141.44,13.78 L1143.13,14.23 L1144.83,14.71 L1146.52,15.20 L1148.21,15.71 L1149.91,16.23 L1151.60,16.78 L1153.29,17.34 L1154.99,17.92 L1156.68,18.52 L1158.37,19.14 L1160.07,19.77 L1161.76,20.42 L1163.45,21.09 L1165.15,21.78 L1166.84,22.48 L1168.53,23.21 L1170.23,23.94 L1171.92,24.70 L1173.61,25.47 L1175.31,26.26 L1177.00,27.07 L1178.69,27.89 L1180.39,28.73 L1182.08,29.59 L1183.77,30.47 L1185.47,31.36 L1187.16,32.26 L1188.85,33.19 L1190.55,34.13 L1192.24,35.08 L1193.93,36.05 L1195.63,37.04 L1197.32,38.04 L1199.01,39.06 L1200.71,40.10 L1202.40,41.15 L1204.09,42.21 L1205.79,43.29 L1207.48,44.39 L1209.17,45.50 L1210.87,46.63 L1212.56,47.77 L1214.25,48.92 L1215.95,50.09 L1217.64,51.28 L1219.33,52.48 L1221.03,53.69 L1222.72,54.92 L1224.41,56.16 L1226.11,57.41 L1227.80,58.68 L1229.49,59.97 L1231.19,61.26 L1232.88,62.57 L1234.57,63.90 L1236.27,65.23 L1237.96,66.58 L1239.65,67.94 L1241.35,69.32 L1243.04,70.71 L1244.73,72.11 L1246.43,73.52 L1248.12,74.94 L1249.81,76.38 L1251.51,77.83 L1253.20,79.29 L1254.89,80.76 L1256.59,82.24 L1258.28,83.73 L1259.97,85.24 L1261.67,86.76 L1263.36,88.28 L1265.05,89.82 L1266.75,91.37 L1268.44,92.93 L1270.13,94.50 L1271.83,96.07 L1273.52,97.66 L1275.21,99.26 L1276.91,100.87 L1278.60,102.49 L1280.29,104.11 L1281.99,105.75 L1283.68,107.39 L1285.37,109.05 L1287.07,110.71 L1288.76,112.38 L1290.45,114.06 L1292.15,115.75 L1293.84,117.44 L1295.53,119.15 L1297.23,120.86 L1298.92,122.57 L1300.61,124.30 L1302.31,126.03 L1304.00,127.77 L1305.69,129.52 L1307.39,131.27 L1309.08,133.03 L1310.77,134.79 L1312.47,136.57 L1314.16,138.34 L1315.85,140.13 L1317.55,141.92 L1319.24,143.71 L1320.93,145.51 L1322.63,147.31 L1324.32,149.12 L1326.01,150.94 L1327.71,152.76 L1329.40,154.58 L1331.09,156.41 L1332.79,158.24 L1334.48,160.07 L1336.17,161.91 L1337.87,163.75 L1339.56,165.60 L1341.25,167.45 L1342.95,169.30 L1344.64,171.15 L1346.33,173.01 L1348.03,174.87 L1349.72,176.73 L1351.41,178.60 L1353.11,180.46 L1354.80,182.33 L1356.49,184.20 L1358.19,186.07 L1359.88,187.94 L1361.57,189.82 L1363.27,191.69 L1364.96,193.56 L1366.65,195.44 L1368.35,197.32 L1370.04,199.19 L1371.73,201.07 L1373.43,202.94 L1375.12,204.82 L1376.81,206.69 L1378.51,208.57 L1380.20,210.44 L1381.89,212.31 L1383.59,214.18 L1385.28,216.05 L1386.97,217.92 L1388.67,219.78 L1390.36,221.65 L1392.05,223.51 L1393.75,225.37 L1395.44,227.23 L1397.13,229.08 L1398.83,230.94 L1400.52,232.79 L1402.21,234.63 L1403.91,236.48 L1405.60,238.32 L1407.29,240.15 L1408.99,241.98 L1410.68,243.81 L1412.37,245.64 L1414.07,247.46 L1415.76,249.27 L1417.45,251.09 L1419.15,252.89 L1420.84,254.70 L1422.53,256.49 L1424.23,258.29 L1425.92,260.07 L1427.61,261.85 L1429.31,263.63 L1431.00,265.40 L1432.69,267.17 L1434.39,268.92 L1436.08,270.68 L1437.77,272.42 L1439.47,274.16 L1441.16,275.89 L1442.85,277.62 L1444.55,279.34 L1446.24,281.05 L1447.93,282.76 L1449.63,284.45 L1451.32,286.14 L1453.01,287.83 L1454.71,289.50 L1456.40,291.17 L1458.09,292.83 L1459.79,294.48 L1461.48,296.12 L1463.17,297.75 L1464.87,299.38 L1466.56,301.00 L1468.25,302.61 L1469.95,304.20 L1471.64,305.80 L1473.33,307.38 L1475.03,308.95 L1476.72,310.51 L1478.41,312.06 L1480.11,313.61 L1481.80,315.14 L1483.49,316.66 L1485.19,318.18 L1486.88,319.68 L1488.57,321.17 L1490.27,322.66 L1491.96,324.13 L1493.65,325.59 L1495.35,327.04 L1497.04,328.49 L1498.73,329.92 L1500.43,331.33 L1502.12,332.74 L1503.81,334.14 L1505.51,335.53 L1507.20,336.90" fill="none" stroke="#ff9600" stroke-width="1.75" stroke-linejoin="round" stroke-linecap="butt"/>
</g>
<rect x="1100.8" y="8.4" width="406.40" height="328.50" fill="none" stroke="#606060" stroke-width="1.6"/>
<line x1="1100.80" y1="336.9" x2="1100.80" y2="339.9" stroke="#333" stroke-width="1.2"/>
<line x1="1097.8" y1="336.90" x2="1100.8" y2="336.90" stroke="#333" stroke-width="1.2"/>
<text class="st" x="1100.80" y="356" font-size="18.2" text-anchor="middle" fill="#000">0.0</text>
<text class="st" x="1094.3999999999999" y="343.50" font-size="18.2" text-anchor="end" fill="#000">0.0</text>
<line x1="1182.08" y1="336.9" x2="1182.08" y2="339.9" stroke="#333" stroke-width="1.2"/>
<line x1="1097.8" y1="271.20" x2="1100.8" y2="271.20" stroke="#333" stroke-width="1.2"/>
<text class="st" x="1182.08" y="356" font-size="18.2" text-anchor="middle" fill="#000">0.2</text>
<text class="st" x="1094.3999999999999" y="277.80" font-size="18.2" text-anchor="end" fill="#000">0.2</text>
<line x1="1263.36" y1="336.9" x2="1263.36" y2="339.9" stroke="#333" stroke-width="1.2"/>
<line x1="1097.8" y1="205.50" x2="1100.8" y2="205.50" stroke="#333" stroke-width="1.2"/>
<text class="st" x="1263.36" y="356" font-size="18.2" text-anchor="middle" fill="#000">0.4</text>
<text class="st" x="1094.3999999999999" y="212.10" font-size="18.2" text-anchor="end" fill="#000">0.4</text>
<line x1="1344.64" y1="336.9" x2="1344.64" y2="339.9" stroke="#333" stroke-width="1.2"/>
<line x1="1097.8" y1="139.80" x2="1100.8" y2="139.80" stroke="#333" stroke-width="1.2"/>
<text class="st" x="1344.64" y="356" font-size="18.2" text-anchor="middle" fill="#000">0.6</text>
<text class="st" x="1094.3999999999999" y="146.40" font-size="18.2" text-anchor="end" fill="#000">0.6</text>
<line x1="1425.92" y1="336.9" x2="1425.92" y2="339.9" stroke="#333" stroke-width="1.2"/>
<line x1="1097.8" y1="74.10" x2="1100.8" y2="74.10" stroke="#333" stroke-width="1.2"/>
<text class="st" x="1425.92" y="356" font-size="18.2" text-anchor="middle" fill="#000">0.8</text>
<text class="st" x="1094.3999999999999" y="80.70" font-size="18.2" text-anchor="end" fill="#000">0.8</text>
<line x1="1507.20" y1="336.9" x2="1507.20" y2="339.9" stroke="#333" stroke-width="1.2"/>
<line x1="1097.8" y1="8.40" x2="1100.8" y2="8.40" stroke="#333" stroke-width="1.2"/>
<text class="st" x="1507.20" y="356" font-size="18.2" text-anchor="middle" fill="#000">1.0</text>
<text class="st" x="1094.3999999999999" y="15.00" font-size="18.2" text-anchor="end" fill="#000">1.0</text>
<text class="st" x="1304.00" y="377" font-size="18.4" text-anchor="middle" fill="#000">Frequency (cycles/pixel)</text>
<text class="st" transform="translate(1063.5,173.35) rotate(-90) scale(0.965,1.04)" font-size="18.4" text-anchor="middle" fill="#000">MTF</text>
<line x1="1241.8" y1="23.5" x2="1276.9" y2="23.5" stroke="#6e9a6e" stroke-width="1.6"/>
<text class="sl" x="1284.9" y="29.9" font-size="21.4" fill="#006400" stroke="#006400" textLength="215.9" lengthAdjust="spacing">Green monochrome MTF</text>
<line x1="1241.8" y1="48.7" x2="1276.9" y2="48.7" stroke="#ffc84a" stroke-width="1.6"/>
<text class="sl" x="1284.9" y="55.3" font-size="21.4" fill="#ffb000" stroke="#ffb000" textLength="176.1" lengthAdjust="spacing">Theory MTF(Green)</text>
<clipPath id="c1597"><rect x="1588.6" y="7.5" width="407.20000000000005" height="330.4"/></clipPath>
<g clip-path="url(#c1597)">
<path d="M1588.60,8.50 L1590.29,8.51 L1591.98,8.54 L1593.68,8.59 L1595.37,8.66 L1597.06,8.75 L1598.75,8.86 L1600.45,8.98 L1602.14,9.13 L1603.83,9.30 L1605.52,9.49 L1607.22,9.69 L1608.91,9.92 L1610.60,10.16 L1612.29,10.43 L1613.99,10.71 L1615.68,11.02 L1617.37,11.34 L1619.06,11.68 L1620.76,12.05 L1622.45,12.43 L1624.14,12.83 L1625.83,13.25 L1627.53,13.69 L1629.22,14.15 L1630.91,14.62 L1632.61,15.12 L1634.30,15.64 L1635.99,16.17 L1637.68,16.72 L1639.38,17.30 L1641.07,17.89 L1642.76,18.50 L1644.45,19.13 L1646.14,19.77 L1647.84,20.44 L1649.53,21.12 L1651.22,21.82 L1652.91,22.54 L1654.61,23.28 L1656.30,24.04 L1657.99,24.81 L1659.68,25.60 L1661.38,26.41 L1663.07,27.23 L1664.76,28.07 L1666.45,28.93 L1668.15,29.80 L1669.84,30.69 L1671.53,31.60 L1673.22,32.52 L1674.92,33.47 L1676.61,34.42 L1678.30,35.40 L1679.99,36.39 L1681.69,37.40 L1683.38,38.42 L1685.07,39.46 L1686.76,40.51 L1688.46,41.58 L1690.15,42.67 L1691.84,43.77 L1693.53,44.89 L1695.23,46.02 L1696.92,47.16 L1698.61,48.32 L1700.30,49.49 L1702.00,50.68 L1703.69,51.87 L1705.38,53.09 L1707.07,54.31 L1708.77,55.55 L1710.46,56.80 L1712.15,58.06 L1713.85,59.33 L1715.54,60.62 L1717.23,61.92 L1718.92,63.23 L1720.62,64.55 L1722.31,65.89 L1724.00,67.24 L1725.69,68.60 L1727.38,69.97 L1729.08,71.35 L1730.77,72.75 L1732.46,74.16 L1734.15,75.58 L1735.85,77.01 L1737.54,78.45 L1739.23,79.91 L1740.92,81.37 L1742.62,82.85 L1744.31,84.33 L1746.00,85.83 L1747.69,87.34 L1749.39,88.86 L1751.08,90.39 L1752.77,91.93 L1754.46,93.48 L1756.16,95.04 L1757.85,96.60 L1759.54,98.18 L1761.23,99.76 L1762.93,101.36 L1764.62,102.96 L1766.31,104.57 L1768.00,106.19 L1769.70,107.81 L1771.39,109.45 L1773.08,111.09 L1774.77,112.74 L1776.47,114.40 L1778.16,116.07 L1779.85,117.74 L1781.54,119.42 L1783.24,121.11 L1784.93,122.81 L1786.62,124.52 L1788.31,126.23 L1790.01,127.95 L1791.70,129.68 L1793.39,131.41 L1795.09,133.15 L1796.78,134.90 L1798.47,136.65 L1800.16,138.41 L1801.86,140.18 L1803.55,141.95 L1805.24,143.72 L1806.93,145.50 L1808.62,147.29 L1810.32,149.08 L1812.01,150.87 L1813.70,152.67 L1815.39,154.48 L1817.09,156.29 L1818.78,158.10 L1820.47,159.92 L1822.16,161.74 L1823.86,163.56 L1825.55,165.39 L1827.24,167.21 L1828.93,169.05 L1830.63,170.88 L1832.32,172.72 L1834.01,174.56 L1835.70,176.40 L1837.40,178.25 L1839.09,180.09 L1840.78,181.94 L1842.47,183.79 L1844.17,185.64 L1845.86,187.49 L1847.55,189.34 L1849.24,191.19 L1850.94,193.04 L1852.63,194.90 L1854.32,196.75 L1856.01,198.61 L1857.71,200.46 L1859.40,202.32 L1861.09,204.18 L1862.78,206.03 L1864.48,207.89 L1866.17,209.74 L1867.86,211.60 L1869.55,213.46 L1871.25,215.31 L1872.94,217.16 L1874.63,219.02 L1876.32,220.87 L1878.02,222.71 L1879.71,224.56 L1881.40,226.40 L1883.09,228.24 L1884.79,230.08 L1886.48,231.92 L1888.17,233.75 L1889.87,235.58 L1891.56,237.41 L1893.25,239.23 L1894.94,241.05 L1896.63,242.87 L1898.33,244.68 L1900.02,246.50 L1901.71,248.30 L1903.40,250.11 L1905.10,251.91 L1906.79,253.71 L1908.48,255.50 L1910.17,257.30 L1911.87,259.08 L1913.56,260.87 L1915.25,262.65 L1916.94,264.42 L1918.64,266.20 L1920.33,267.97 L1922.02,269.73 L1923.71,271.49 L1925.41,273.25 L1927.10,275.00 L1928.79,276.74 L1930.48,278.48 L1932.18,280.22 L1933.87,281.94 L1935.56,283.66 L1937.25,285.37 L1938.95,287.08 L1940.64,288.77 L1942.33,290.46 L1944.03,292.14 L1945.72,293.81 L1947.41,295.47 L1949.10,297.12 L1950.79,298.76 L1952.49,300.39 L1954.18,302.01 L1955.87,303.62 L1957.57,305.22 L1959.26,306.82 L1960.95,308.40 L1962.64,309.97 L1964.34,311.54 L1966.03,313.09 L1967.72,314.63 L1969.41,316.16 L1971.11,317.69 L1972.80,319.19 L1974.49,320.69 L1976.18,322.17 L1977.88,323.61 L1979.57,325.04 L1981.26,326.43 L1982.95,327.80 L1984.64,329.15 L1986.34,330.49 L1988.03,331.80 L1989.72,333.09 L1991.41,334.38 L1993.11,335.64 L1994.80,336.90" fill="none" stroke="#ff0000" stroke-width="1.8" stroke-linejoin="round" stroke-linecap="butt"/>
<path d="M1588.60,8.50 L1590.29,8.51 L1591.98,8.54 L1593.68,8.58 L1595.37,8.65 L1597.06,8.73 L1598.75,8.83 L1600.45,8.96 L1602.14,9.09 L1603.83,9.25 L1605.52,9.43 L1607.22,9.62 L1608.91,9.84 L1610.60,10.07 L1612.29,10.32 L1613.99,10.59 L1615.68,10.87 L1617.37,11.18 L1619.06,11.50 L1620.76,11.84 L1622.45,12.20 L1624.14,12.58 L1625.83,12.98 L1627.53,13.39 L1629.22,13.82 L1630.91,14.27 L1632.61,14.74 L1634.30,15.23 L1635.99,15.73 L1637.68,16.25 L1639.38,16.79 L1641.07,17.35 L1642.76,17.92 L1644.45,18.51 L1646.14,19.12 L1647.84,19.75 L1649.53,20.39 L1651.22,21.05 L1652.91,21.73 L1654.61,22.42 L1656.30,23.14 L1657.99,23.87 L1659.68,24.61 L1661.38,25.37 L1663.07,26.15 L1664.76,26.95 L1666.45,27.76 L1668.15,28.59 L1669.84,29.44 L1671.53,30.30 L1673.22,31.18 L1674.92,32.07 L1676.61,32.98 L1678.30,33.90 L1679.99,34.85 L1681.69,35.80 L1683.38,36.77 L1685.07,37.76 L1686.76,38.77 L1688.46,39.78 L1690.15,40.82 L1691.84,41.87 L1693.53,42.93 L1695.23,44.01 L1696.92,45.10 L1698.61,46.21 L1700.30,47.33 L1702.00,48.46 L1703.69,49.61 L1705.38,50.78 L1707.07,51.96 L1708.77,53.15 L1710.46,54.35 L1712.15,55.57 L1713.85,56.81 L1715.54,58.05 L1717.23,59.31 L1718.92,60.58 L1720.62,61.86 L1722.31,63.16 L1724.00,64.47 L1725.69,65.79 L1727.38,67.12 L1729.08,68.47 L1730.77,69.83 L1732.46,71.20 L1734.15,72.58 L1735.85,73.97 L1737.54,75.38 L1739.23,76.79 L1740.92,78.22 L1742.62,79.66 L1744.31,81.12 L1746.00,82.58 L1747.69,84.05 L1749.39,85.54 L1751.08,87.04 L1752.77,88.55 L1754.46,90.06 L1756.16,91.59 L1757.85,93.13 L1759.54,94.67 L1761.23,96.23 L1762.93,97.79 L1764.62,99.37 L1766.31,100.95 L1768.00,102.55 L1769.70,104.15 L1771.39,105.76 L1773.08,107.38 L1774.77,109.01 L1776.47,110.65 L1778.16,112.30 L1779.85,113.96 L1781.54,115.63 L1783.24,117.31 L1784.93,118.99 L1786.62,120.69 L1788.31,122.39 L1790.01,124.11 L1791.70,125.83 L1793.39,127.56 L1795.09,129.30 L1796.78,131.05 L1798.47,132.80 L1800.16,134.56 L1801.86,136.32 L1803.55,138.09 L1805.24,139.87 L1806.93,141.65 L1808.62,143.44 L1810.32,145.24 L1812.01,147.03 L1813.70,148.84 L1815.39,150.65 L1817.09,152.46 L1818.78,154.28 L1820.47,156.10 L1822.16,157.93 L1823.86,159.76 L1825.55,161.60 L1827.24,163.44 L1828.93,165.28 L1830.63,167.13 L1832.32,168.98 L1834.01,170.83 L1835.70,172.69 L1837.40,174.55 L1839.09,176.42 L1840.78,178.28 L1842.47,180.15 L1844.17,182.03 L1845.86,183.90 L1847.55,185.78 L1849.24,187.66 L1850.94,189.54 L1852.63,191.42 L1854.32,193.30 L1856.01,195.18 L1857.71,197.07 L1859.40,198.95 L1861.09,200.84 L1862.78,202.72 L1864.48,204.61 L1866.17,206.49 L1867.86,208.38 L1869.55,210.26 L1871.25,212.14 L1872.94,214.02 L1874.63,215.90 L1876.32,217.78 L1878.02,219.66 L1879.71,221.54 L1881.40,223.42 L1883.09,225.29 L1884.79,227.16 L1886.48,229.03 L1888.17,230.90 L1889.87,232.77 L1891.56,234.63 L1893.25,236.50 L1894.94,238.35 L1896.63,240.21 L1898.33,242.06 L1900.02,243.91 L1901.71,245.76 L1903.40,247.60 L1905.10,249.43 L1906.79,251.27 L1908.48,253.10 L1910.17,254.92 L1911.87,256.74 L1913.56,258.55 L1915.25,260.36 L1916.94,262.17 L1918.64,263.97 L1920.33,265.76 L1922.02,267.56 L1923.71,269.34 L1925.41,271.12 L1927.10,272.90 L1928.79,274.67 L1930.48,276.43 L1932.18,278.18 L1933.87,279.93 L1935.56,281.68 L1937.25,283.41 L1938.95,285.14 L1940.64,286.86 L1942.33,288.57 L1944.03,290.27 L1945.72,291.97 L1947.41,293.66 L1949.10,295.33 L1950.79,297.00 L1952.49,298.66 L1954.18,300.31 L1955.87,301.95 L1957.57,303.58 L1959.26,305.20 L1960.95,306.82 L1962.64,308.42 L1964.34,310.01 L1966.03,311.60 L1967.72,313.17 L1969.41,314.73 L1971.11,316.29 L1972.80,317.83 L1974.49,319.36 L1976.18,320.88 L1977.88,322.40 L1979.57,323.90 L1981.26,325.39 L1982.95,326.87 L1984.64,328.33 L1986.34,329.79 L1988.03,331.23 L1989.72,332.67 L1991.41,334.09 L1993.11,335.50 L1994.80,336.90" fill="none" stroke="#0000c0" stroke-width="1.8" stroke-linejoin="round" stroke-linecap="butt"/>
<path d="M1588.60,8.50 L1590.29,8.51 L1591.98,8.54 L1593.68,8.58 L1595.37,8.65 L1597.06,8.73 L1598.75,8.84 L1600.45,8.96 L1602.14,9.10 L1603.83,9.26 L1605.52,9.44 L1607.22,9.63 L1608.91,9.85 L1610.60,10.08 L1612.29,10.34 L1613.99,10.61 L1615.68,10.90 L1617.37,11.20 L1619.06,11.53 L1620.76,11.88 L1622.45,12.24 L1624.14,12.62 L1625.83,13.02 L1627.53,13.44 L1629.22,13.88 L1630.91,14.33 L1632.61,14.80 L1634.30,15.29 L1635.99,15.80 L1637.68,16.33 L1639.38,16.88 L1641.07,17.44 L1642.76,18.02 L1644.45,18.62 L1646.14,19.23 L1647.84,19.87 L1649.53,20.52 L1651.22,21.19 L1652.91,21.88 L1654.61,22.58 L1656.30,23.30 L1657.99,24.04 L1659.68,24.80 L1661.38,25.57 L1663.07,26.36 L1664.76,27.16 L1666.45,27.99 L1668.15,28.83 L1669.84,29.69 L1671.53,30.56 L1673.22,31.45 L1674.92,32.36 L1676.61,33.28 L1678.30,34.22 L1679.99,35.17 L1681.69,36.14 L1683.38,37.13 L1685.07,38.13 L1686.76,39.15 L1688.46,40.19 L1690.15,41.24 L1691.84,42.30 L1693.53,43.38 L1695.23,44.48 L1696.92,45.59 L1698.61,46.71 L1700.30,47.85 L1702.00,49.01 L1703.69,50.18 L1705.38,51.36 L1707.07,52.56 L1708.77,53.78 L1710.46,55.00 L1712.15,56.24 L1713.85,57.50 L1715.54,58.77 L1717.23,60.05 L1718.92,61.35 L1720.62,62.66 L1722.31,63.98 L1724.00,65.32 L1725.69,66.66 L1727.38,68.03 L1729.08,69.40 L1730.77,70.79 L1732.46,72.19 L1734.15,73.60 L1735.85,75.02 L1737.54,76.46 L1739.23,77.91 L1740.92,79.36 L1742.62,80.84 L1744.31,82.32 L1746.00,83.81 L1747.69,85.32 L1749.39,86.83 L1751.08,88.36 L1752.77,89.90 L1754.46,91.44 L1756.16,93.00 L1757.85,94.57 L1759.54,96.15 L1761.23,97.74 L1762.93,99.33 L1764.62,100.94 L1766.31,102.56 L1768.00,104.18 L1769.70,105.82 L1771.39,107.46 L1773.08,109.12 L1774.77,110.78 L1776.47,112.45 L1778.16,114.13 L1779.85,115.81 L1781.54,117.51 L1783.24,119.21 L1784.93,120.92 L1786.62,122.64 L1788.31,124.36 L1790.01,126.10 L1791.70,127.83 L1793.39,129.58 L1795.09,131.33 L1796.78,133.09 L1798.47,134.86 L1800.16,136.63 L1801.86,138.40 L1803.55,140.19 L1805.24,141.97 L1806.93,143.77 L1808.62,145.57 L1810.32,147.37 L1812.01,149.18 L1813.70,150.99 L1815.39,152.81 L1817.09,154.63 L1818.78,156.46 L1820.47,158.29 L1822.16,160.13 L1823.86,161.96 L1825.55,163.81 L1827.24,165.65 L1828.93,167.50 L1830.63,169.35 L1832.32,171.21 L1834.01,173.06 L1835.70,174.92 L1837.40,176.78 L1839.09,178.65 L1840.78,180.51 L1842.47,182.38 L1844.17,184.25 L1845.86,186.12 L1847.55,187.99 L1849.24,189.86 L1850.94,191.73 L1852.63,193.61 L1854.32,195.48 L1856.01,197.36 L1857.71,199.23 L1859.40,201.11 L1861.09,202.98 L1862.78,204.86 L1864.48,206.73 L1866.17,208.60 L1867.86,210.48 L1869.55,212.35 L1871.25,214.22 L1872.94,216.09 L1874.63,217.95 L1876.32,219.82 L1878.02,221.68 L1879.71,223.55 L1881.40,225.40 L1883.09,227.26 L1884.79,229.12 L1886.48,230.97 L1888.17,232.82 L1889.87,234.66 L1891.56,236.51 L1893.25,238.35 L1894.94,240.18 L1896.63,242.01 L1898.33,243.84 L1900.02,245.67 L1901.71,247.49 L1903.40,249.30 L1905.10,251.11 L1906.79,252.92 L1908.48,254.72 L1910.17,256.52 L1911.87,258.31 L1913.56,260.10 L1915.25,261.88 L1916.94,263.65 L1918.64,265.42 L1920.33,267.19 L1922.02,268.94 L1923.71,270.70 L1925.41,272.44 L1927.10,274.18 L1928.79,275.91 L1930.48,277.64 L1932.18,279.36 L1933.87,281.07 L1935.56,282.77 L1937.25,284.47 L1938.95,286.16 L1940.64,287.84 L1942.33,289.52 L1944.03,291.18 L1945.72,292.84 L1947.41,294.49 L1949.10,296.13 L1950.79,297.77 L1952.49,299.39 L1954.18,301.01 L1955.87,302.62 L1957.57,304.21 L1959.26,305.80 L1960.95,307.39 L1962.64,308.96 L1964.34,310.52 L1966.03,312.07 L1967.72,313.61 L1969.41,315.15 L1971.11,316.67 L1972.80,318.18 L1974.49,319.69 L1976.18,321.18 L1977.88,322.66 L1979.57,324.13 L1981.26,325.60 L1982.95,327.05 L1984.64,328.49 L1986.34,329.92 L1988.03,331.34 L1989.72,332.74 L1991.41,334.14 L1993.11,335.53 L1994.80,336.90" fill="none" stroke="#ffb000" stroke-width="1.35" stroke-linejoin="round" stroke-linecap="butt"/>
</g>
<rect x="1588.6" y="8.5" width="406.20" height="328.40" fill="none" stroke="#606060" stroke-width="1.6"/>
<line x1="1588.60" y1="336.9" x2="1588.60" y2="339.9" stroke="#333" stroke-width="1.2"/>
<line x1="1585.6" y1="336.90" x2="1588.6" y2="336.90" stroke="#333" stroke-width="1.2"/>
<text class="st" x="1588.60" y="356" font-size="18.2" text-anchor="middle" fill="#000">0.0</text>
<text class="st" x="1582.1999999999998" y="343.50" font-size="18.2" text-anchor="end" fill="#000">0.0</text>
<line x1="1669.84" y1="336.9" x2="1669.84" y2="339.9" stroke="#333" stroke-width="1.2"/>
<line x1="1585.6" y1="271.22" x2="1588.6" y2="271.22" stroke="#333" stroke-width="1.2"/>
<text class="st" x="1669.84" y="356" font-size="18.2" text-anchor="middle" fill="#000">0.2</text>
<text class="st" x="1582.1999999999998" y="277.82" font-size="18.2" text-anchor="end" fill="#000">0.2</text>
<line x1="1751.08" y1="336.9" x2="1751.08" y2="339.9" stroke="#333" stroke-width="1.2"/>
<line x1="1585.6" y1="205.54" x2="1588.6" y2="205.54" stroke="#333" stroke-width="1.2"/>
<text class="st" x="1751.08" y="356" font-size="18.2" text-anchor="middle" fill="#000">0.4</text>
<text class="st" x="1582.1999999999998" y="212.14" font-size="18.2" text-anchor="end" fill="#000">0.4</text>
<line x1="1832.32" y1="336.9" x2="1832.32" y2="339.9" stroke="#333" stroke-width="1.2"/>
<line x1="1585.6" y1="139.86" x2="1588.6" y2="139.86" stroke="#333" stroke-width="1.2"/>
<text class="st" x="1832.32" y="356" font-size="18.2" text-anchor="middle" fill="#000">0.6</text>
<text class="st" x="1582.1999999999998" y="146.46" font-size="18.2" text-anchor="end" fill="#000">0.6</text>
<line x1="1913.56" y1="336.9" x2="1913.56" y2="339.9" stroke="#333" stroke-width="1.2"/>
<line x1="1585.6" y1="74.18" x2="1588.6" y2="74.18" stroke="#333" stroke-width="1.2"/>
<text class="st" x="1913.56" y="356" font-size="18.2" text-anchor="middle" fill="#000">0.8</text>
<text class="st" x="1582.1999999999998" y="80.78" font-size="18.2" text-anchor="end" fill="#000">0.8</text>
<line x1="1994.80" y1="336.9" x2="1994.80" y2="339.9" stroke="#333" stroke-width="1.2"/>
<line x1="1585.6" y1="8.50" x2="1588.6" y2="8.50" stroke="#333" stroke-width="1.2"/>
<text class="st" x="1994.80" y="356" font-size="18.2" text-anchor="middle" fill="#000">1.0</text>
<text class="st" x="1582.1999999999998" y="15.10" font-size="18.2" text-anchor="end" fill="#000">1.0</text>
<text class="st" x="1791.70" y="377" font-size="18.4" text-anchor="middle" fill="#000">Frequency (cycles/pixel)</text>
<text class="st" transform="translate(1551.5,173.40) rotate(-90) scale(0.965,1.04)" font-size="18.4" text-anchor="middle" fill="#000">MTF</text>
<line x1="1732.3" y1="18.3" x2="1763.5" y2="18.3" stroke="#ff5a5a" stroke-width="1.6"/>
<text class="sl" x="1767.2" y="25.1" font-size="21.4" fill="#ff0000" stroke="#ff0000" textLength="199.6" lengthAdjust="spacing">Red monochrome MTF</text>
<line x1="1732.3" y1="43.3" x2="1763.5" y2="43.3" stroke="#5fa8dc" stroke-width="1.6"/>
<text class="sl" x="1767.2" y="49.9" font-size="21.4" fill="#005cae" stroke="#005cae" textLength="205.7" lengthAdjust="spacing">Blue monochrome MTF</text>
<line x1="1732.3" y1="69.9" x2="1763.5" y2="69.9" stroke="#ffc84a" stroke-width="1.6"/>
<text class="sl" x="1767.2" y="76.0" font-size="21.4" fill="#ffb000" stroke="#ffb000" textLength="224.0" lengthAdjust="spacing">Theory MTF(Blue &amp; Red)</text>
<clipPath id="c1494"><rect x="1100.8" y="392.8" width="407.4000000000001" height="330.49999999999994"/></clipPath>
<g clip-path="url(#c1494)">
<path d="M1100.80,393.80 L1102.49,393.81 L1104.19,393.85 L1105.88,393.92 L1107.57,394.01 L1109.27,394.13 L1110.96,394.28 L1112.65,394.45 L1114.35,394.65 L1116.04,394.87 L1117.73,395.12 L1119.43,395.40 L1121.12,395.70 L1122.81,396.03 L1124.51,396.39 L1126.20,396.77 L1127.89,397.17 L1129.59,397.60 L1131.28,398.06 L1132.97,398.54 L1134.67,399.05 L1136.36,399.59 L1138.05,400.14 L1139.75,400.73 L1141.44,401.34 L1143.13,401.97 L1144.83,402.63 L1146.52,403.31 L1148.21,404.01 L1149.91,404.74 L1151.60,405.49 L1153.29,406.27 L1154.99,407.07 L1156.68,407.89 L1158.37,408.74 L1160.07,409.60 L1161.76,410.49 L1163.45,411.41 L1165.15,412.34 L1166.84,413.30 L1168.53,414.27 L1170.23,415.27 L1171.92,416.29 L1173.61,417.33 L1175.31,418.39 L1177.00,419.48 L1178.69,420.58 L1180.39,421.70 L1182.08,422.84 L1183.77,424.00 L1185.47,425.18 L1187.16,426.38 L1188.85,427.59 L1190.55,428.83 L1192.24,430.08 L1193.93,431.35 L1195.63,432.64 L1197.32,433.94 L1199.01,435.27 L1200.71,436.60 L1202.40,437.96 L1204.09,439.33 L1205.79,440.71 L1207.48,442.11 L1209.17,443.53 L1210.87,444.96 L1212.56,446.41 L1214.25,447.87 L1215.95,449.34 L1217.64,450.83 L1219.33,452.33 L1221.03,453.84 L1222.72,455.37 L1224.41,456.91 L1226.11,458.46 L1227.80,460.02 L1229.49,461.59 L1231.19,463.18 L1232.88,464.78 L1234.57,466.38 L1236.27,468.00 L1237.96,469.63 L1239.65,471.27 L1241.35,472.91 L1243.04,474.57 L1244.73,476.23 L1246.43,477.91 L1248.12,479.59 L1249.81,481.28 L1251.51,482.98 L1253.20,484.69 L1254.89,486.40 L1256.59,488.12 L1258.28,489.85 L1259.97,491.58 L1261.67,493.32 L1263.36,495.07 L1265.05,496.82 L1266.75,498.58 L1268.44,500.34 L1270.13,502.11 L1271.83,503.88 L1273.52,505.66 L1275.21,507.44 L1276.91,509.23 L1278.60,511.01 L1280.29,512.81 L1281.99,514.60 L1283.68,516.40 L1285.37,518.20 L1287.07,520.01 L1288.76,521.82 L1290.45,523.63 L1292.15,525.44 L1293.84,527.25 L1295.53,529.06 L1297.23,530.88 L1298.92,532.70 L1300.61,534.52 L1302.31,536.33 L1304.00,538.15 L1305.69,539.97 L1307.39,541.79 L1309.08,543.61 L1310.77,545.43 L1312.47,547.25 L1314.16,549.07 L1315.85,550.89 L1317.55,552.71 L1319.24,554.52 L1320.93,556.34 L1322.63,558.15 L1324.32,559.96 L1326.01,561.78 L1327.71,563.58 L1329.40,565.39 L1331.09,567.20 L1332.79,569.00 L1334.48,570.80 L1336.17,572.60 L1337.87,574.39 L1339.56,576.18 L1341.25,577.97 L1342.95,579.76 L1344.64,581.54 L1346.33,583.32 L1348.03,585.10 L1349.72,586.87 L1351.41,588.64 L1353.11,590.40 L1354.80,592.17 L1356.49,593.92 L1358.19,595.68 L1359.88,597.43 L1361.57,599.17 L1363.27,600.91 L1364.96,602.65 L1366.65,604.38 L1368.35,606.11 L1370.04,607.83 L1371.73,609.55 L1373.43,611.27 L1375.12,612.97 L1376.81,614.68 L1378.51,616.38 L1380.20,618.07 L1381.89,619.76 L1383.59,621.44 L1385.28,623.12 L1386.97,624.79 L1388.67,626.46 L1390.36,628.12 L1392.05,629.78 L1393.75,631.43 L1395.44,633.08 L1397.13,634.72 L1398.83,636.35 L1400.52,637.98 L1402.21,639.60 L1403.91,641.22 L1405.60,642.83 L1407.29,644.44 L1408.99,646.03 L1410.68,647.63 L1412.37,649.22 L1414.07,650.80 L1415.76,652.37 L1417.45,653.94 L1419.15,655.51 L1420.84,657.06 L1422.53,658.61 L1424.23,660.16 L1425.92,661.70 L1427.61,663.23 L1429.31,664.76 L1431.00,666.28 L1432.69,667.79 L1434.39,669.30 L1436.08,670.80 L1437.77,672.29 L1439.47,673.78 L1441.16,675.27 L1442.85,676.74 L1444.55,678.21 L1446.24,679.67 L1447.93,681.13 L1449.63,682.58 L1451.32,684.02 L1453.01,685.46 L1454.71,686.89 L1456.40,688.31 L1458.09,689.73 L1459.79,691.14 L1461.48,692.55 L1463.17,693.95 L1464.87,695.34 L1466.56,696.72 L1468.25,698.10 L1469.95,699.47 L1471.64,700.83 L1473.33,702.19 L1475.03,703.54 L1476.72,704.89 L1478.41,706.22 L1480.11,707.55 L1481.80,708.88 L1483.49,710.20 L1485.19,711.51 L1486.88,712.81 L1488.57,714.10 L1490.27,715.39 L1491.96,716.68 L1493.65,717.95 L1495.35,718.93 L1497.04,719.41 L1498.73,719.89 L1500.43,720.37 L1502.12,720.86 L1503.81,721.34 L1505.51,721.82 L1507.20,722.30" fill="none" stroke="#005a00" stroke-width="1.75" stroke-linejoin="round" stroke-linecap="butt"/>
<path d="M1100.80,393.80 L1102.49,393.81 L1104.19,393.84 L1105.88,393.88 L1107.57,393.95 L1109.27,394.03 L1110.96,394.14 L1112.65,394.26 L1114.35,394.40 L1116.04,394.56 L1117.73,394.74 L1119.43,394.93 L1121.12,395.15 L1122.81,395.38 L1124.51,395.64 L1126.20,395.91 L1127.89,396.20 L1129.59,396.50 L1131.28,396.83 L1132.97,397.18 L1134.67,397.54 L1136.36,397.92 L1138.05,398.32 L1139.75,398.74 L1141.44,399.18 L1143.13,399.63 L1144.83,400.11 L1146.52,400.60 L1148.21,401.11 L1149.91,401.63 L1151.60,402.18 L1153.29,402.74 L1154.99,403.32 L1156.68,403.92 L1158.37,404.54 L1160.07,405.17 L1161.76,405.82 L1163.45,406.49 L1165.15,407.18 L1166.84,407.88 L1168.53,408.61 L1170.23,409.34 L1171.92,410.10 L1173.61,410.87 L1175.31,411.66 L1177.00,412.47 L1178.69,413.29 L1180.39,414.13 L1182.08,414.99 L1183.77,415.87 L1185.47,416.76 L1187.16,417.66 L1188.85,418.59 L1190.55,419.53 L1192.24,420.48 L1193.93,421.45 L1195.63,422.44 L1197.32,423.44 L1199.01,424.46 L1200.71,425.50 L1202.40,426.55 L1204.09,427.61 L1205.79,428.69 L1207.48,429.79 L1209.17,430.90 L1210.87,432.03 L1212.56,433.17 L1214.25,434.32 L1215.95,435.49 L1217.64,436.68 L1219.33,437.88 L1221.03,439.09 L1222.72,440.32 L1224.41,441.56 L1226.11,442.81 L1227.80,444.08 L1229.49,445.37 L1231.19,446.66 L1232.88,447.97 L1234.57,449.30 L1236.27,450.63 L1237.96,451.98 L1239.65,453.34 L1241.35,454.72 L1243.04,456.11 L1244.73,457.51 L1246.43,458.92 L1248.12,460.34 L1249.81,461.78 L1251.51,463.23 L1253.20,464.69 L1254.89,466.16 L1256.59,467.64 L1258.28,469.13 L1259.97,470.64 L1261.67,472.16 L1263.36,473.68 L1265.05,475.22 L1266.75,476.77 L1268.44,478.33 L1270.13,479.90 L1271.83,481.47 L1273.52,483.06 L1275.21,484.66 L1276.91,486.27 L1278.60,487.89 L1280.29,489.51 L1281.99,491.15 L1283.68,492.79 L1285.37,494.45 L1287.07,496.11 L1288.76,497.78 L1290.45,499.46 L1292.15,501.15 L1293.84,502.84 L1295.53,504.55 L1297.23,506.26 L1298.92,507.97 L1300.61,509.70 L1302.31,511.43 L1304.00,513.17 L1305.69,514.92 L1307.39,516.67 L1309.08,518.43 L1310.77,520.19 L1312.47,521.97 L1314.16,523.74 L1315.85,525.53 L1317.55,527.32 L1319.24,529.11 L1320.93,530.91 L1322.63,532.71 L1324.32,534.52 L1326.01,536.34 L1327.71,538.16 L1329.40,539.98 L1331.09,541.81 L1332.79,543.64 L1334.48,545.47 L1336.17,547.31 L1337.87,549.15 L1339.56,551.00 L1341.25,552.85 L1342.95,554.70 L1344.64,556.55 L1346.33,558.41 L1348.03,560.27 L1349.72,562.13 L1351.41,564.00 L1353.11,565.86 L1354.80,567.73 L1356.49,569.60 L1358.19,571.47 L1359.88,573.34 L1361.57,575.22 L1363.27,577.09 L1364.96,578.96 L1366.65,580.84 L1368.35,582.72 L1370.04,584.59 L1371.73,586.47 L1373.43,588.34 L1375.12,590.22 L1376.81,592.09 L1378.51,593.97 L1380.20,595.84 L1381.89,597.71 L1383.59,599.58 L1385.28,601.45 L1386.97,603.32 L1388.67,605.18 L1390.36,607.05 L1392.05,608.91 L1393.75,610.77 L1395.44,612.63 L1397.13,614.48 L1398.83,616.34 L1400.52,618.19 L1402.21,620.03 L1403.91,621.88 L1405.60,623.72 L1407.29,625.55 L1408.99,627.38 L1410.68,629.21 L1412.37,631.04 L1414.07,632.86 L1415.76,634.67 L1417.45,636.49 L1419.15,638.29 L1420.84,640.10 L1422.53,641.89 L1424.23,643.69 L1425.92,645.47 L1427.61,647.25 L1429.31,649.03 L1431.00,650.80 L1432.69,652.57 L1434.39,654.32 L1436.08,656.08 L1437.77,657.82 L1439.47,659.56 L1441.16,661.29 L1442.85,663.02 L1444.55,664.74 L1446.24,666.45 L1447.93,668.16 L1449.63,669.85 L1451.32,671.54 L1453.01,673.23 L1454.71,674.90 L1456.40,676.57 L1458.09,678.23 L1459.79,679.88 L1461.48,681.52 L1463.17,683.15 L1464.87,684.78 L1466.56,686.40 L1468.25,688.01 L1469.95,689.60 L1471.64,691.20 L1473.33,692.78 L1475.03,694.35 L1476.72,695.91 L1478.41,697.46 L1480.11,699.01 L1481.80,700.54 L1483.49,702.06 L1485.19,703.58 L1486.88,705.08 L1488.57,706.57 L1490.27,708.06 L1491.96,709.53 L1493.65,710.99 L1495.35,712.44 L1497.04,713.89 L1498.73,715.32 L1500.43,716.73 L1502.12,718.14 L1503.81,719.54 L1505.51,720.93 L1507.20,722.30" fill="none" stroke="#ff9600" stroke-width="1.75" stroke-linejoin="round" stroke-linecap="butt"/>
</g>
<rect x="1100.8" y="393.8" width="406.40" height="328.50" fill="none" stroke="#606060" stroke-width="1.6"/>
<line x1="1100.80" y1="722.3" x2="1100.80" y2="725.3" stroke="#333" stroke-width="1.2"/>
<line x1="1097.8" y1="722.30" x2="1100.8" y2="722.30" stroke="#333" stroke-width="1.2"/>
<text class="st" x="1100.80" y="741.5" font-size="18.2" text-anchor="middle" fill="#000">0.0</text>
<text class="st" x="1094.3999999999999" y="728.90" font-size="18.2" text-anchor="end" fill="#000">0.0</text>
<line x1="1182.08" y1="722.3" x2="1182.08" y2="725.3" stroke="#333" stroke-width="1.2"/>
<line x1="1097.8" y1="656.60" x2="1100.8" y2="656.60" stroke="#333" stroke-width="1.2"/>
<text class="st" x="1182.08" y="741.5" font-size="18.2" text-anchor="middle" fill="#000">0.2</text>
<text class="st" x="1094.3999999999999" y="663.20" font-size="18.2" text-anchor="end" fill="#000">0.2</text>
<line x1="1263.36" y1="722.3" x2="1263.36" y2="725.3" stroke="#333" stroke-width="1.2"/>
<line x1="1097.8" y1="590.90" x2="1100.8" y2="590.90" stroke="#333" stroke-width="1.2"/>
<text class="st" x="1263.36" y="741.5" font-size="18.2" text-anchor="middle" fill="#000">0.4</text>
<text class="st" x="1094.3999999999999" y="597.50" font-size="18.2" text-anchor="end" fill="#000">0.4</text>
<line x1="1344.64" y1="722.3" x2="1344.64" y2="725.3" stroke="#333" stroke-width="1.2"/>
<line x1="1097.8" y1="525.20" x2="1100.8" y2="525.20" stroke="#333" stroke-width="1.2"/>
<text class="st" x="1344.64" y="741.5" font-size="18.2" text-anchor="middle" fill="#000">0.6</text>
<text class="st" x="1094.3999999999999" y="531.80" font-size="18.2" text-anchor="end" fill="#000">0.6</text>
<line x1="1425.92" y1="722.3" x2="1425.92" y2="725.3" stroke="#333" stroke-width="1.2"/>
<line x1="1097.8" y1="459.50" x2="1100.8" y2="459.50" stroke="#333" stroke-width="1.2"/>
<text class="st" x="1425.92" y="741.5" font-size="18.2" text-anchor="middle" fill="#000">0.8</text>
<text class="st" x="1094.3999999999999" y="466.10" font-size="18.2" text-anchor="end" fill="#000">0.8</text>
<line x1="1507.20" y1="722.3" x2="1507.20" y2="725.3" stroke="#333" stroke-width="1.2"/>
<line x1="1097.8" y1="393.80" x2="1100.8" y2="393.80" stroke="#333" stroke-width="1.2"/>
<text class="st" x="1507.20" y="741.5" font-size="18.2" text-anchor="middle" fill="#000">1.0</text>
<text class="st" x="1094.3999999999999" y="400.40" font-size="18.2" text-anchor="end" fill="#000">1.0</text>
<text class="st" x="1304.00" y="762.5" font-size="18.4" text-anchor="middle" fill="#000">Frequency (cycles/pixel)</text>
<text class="st" transform="translate(1063.5,558.75) rotate(-90) scale(0.965,1.04)" font-size="18.4" text-anchor="middle" fill="#000">MTF</text>
<line x1="1243.2" y1="409.9" x2="1277.4" y2="409.9" stroke="#6e9a6e" stroke-width="1.6"/>
<text class="sl" x="1286.4" y="416.8" font-size="21.4" fill="#006400" stroke="#006400" textLength="216.2" lengthAdjust="spacing">Green monochrome MTF</text>
<line x1="1243.2" y1="435.4" x2="1277.4" y2="435.4" stroke="#ffc84a" stroke-width="1.6"/>
<text class="sl" x="1286.4" y="441.7" font-size="21.4" fill="#ffb000" stroke="#ffb000" textLength="175.8" lengthAdjust="spacing">Theory MTF(Green)</text>
<clipPath id="c1982"><rect x="1588.6" y="393.0" width="407.20000000000005" height="330.29999999999995"/></clipPath>
<g clip-path="url(#c1982)">
<path d="M1588.60,394.00 L1589.44,394.01 L1590.29,394.04 L1591.13,394.08 L1591.98,394.15 L1592.82,394.24 L1593.67,394.34 L1594.51,394.46 L1595.36,394.60 L1596.20,394.76 L1597.05,394.94 L1597.89,395.14 L1598.73,395.35 L1599.58,395.59 L1600.42,395.84 L1601.27,396.11 L1602.11,396.40 L1602.96,396.71 L1603.80,397.04 L1604.65,397.39 L1605.49,397.75 L1606.34,398.14 L1607.18,398.54 L1608.02,398.96 L1608.87,399.40 L1609.71,399.85 L1610.56,400.33 L1611.40,400.82 L1612.25,401.33 L1613.09,401.86 L1613.94,402.41 L1614.78,402.97 L1615.63,403.55 L1616.47,404.16 L1617.31,404.77 L1618.16,405.41 L1619.00,406.06 L1619.85,406.74 L1620.69,407.42 L1621.54,408.13 L1622.38,408.85 L1623.23,409.60 L1624.07,410.35 L1624.92,411.13 L1625.76,411.92 L1626.61,412.73 L1627.45,413.56 L1628.29,414.40 L1629.14,415.26 L1629.98,416.14 L1630.83,417.03 L1631.67,417.94 L1632.52,418.87 L1633.36,419.81 L1634.21,420.77 L1635.05,421.74 L1635.90,422.73 L1636.74,423.74 L1637.58,424.76 L1638.43,425.80 L1639.27,426.85 L1640.12,427.92 L1640.96,429.01 L1641.81,430.11 L1642.65,431.22 L1643.50,432.35 L1644.34,433.49 L1645.19,434.65 L1646.03,435.83 L1646.87,437.02 L1647.72,438.22 L1648.56,439.44 L1649.41,440.67 L1650.25,441.91 L1651.10,443.17 L1651.94,444.44 L1652.79,445.73 L1653.63,447.03 L1654.48,448.34 L1655.32,449.67 L1656.16,451.01 L1657.01,452.37 L1657.85,453.73 L1658.70,455.11 L1659.54,456.50 L1660.39,457.90 L1661.23,459.32 L1662.08,460.75 L1662.92,462.19 L1663.77,463.64 L1664.61,465.11 L1665.45,466.58 L1666.30,468.07 L1667.14,469.57 L1667.99,471.08 L1668.83,472.60 L1669.68,474.13 L1670.52,475.67 L1671.37,477.22 L1672.21,478.78 L1673.06,480.36 L1673.90,481.94 L1674.74,483.53 L1675.59,485.14 L1676.43,486.75 L1677.28,488.37 L1678.12,490.00 L1678.97,491.64 L1679.81,493.29 L1680.66,494.95 L1681.50,496.61 L1682.35,498.29 L1683.19,499.97 L1684.03,501.66 L1684.88,503.36 L1685.72,505.07 L1686.57,506.78 L1687.41,508.51 L1688.26,510.23 L1689.10,511.97 L1689.95,513.71 L1690.79,515.46 L1691.64,517.22 L1692.48,518.98 L1693.33,520.75 L1694.17,522.53 L1695.01,524.31 L1695.86,526.10 L1696.70,527.89 L1697.55,529.69 L1698.39,531.49 L1699.24,533.30 L1700.08,535.11 L1700.93,536.93 L1701.77,538.75 L1702.62,540.58 L1703.46,542.41 L1704.30,544.25 L1705.15,546.09 L1705.99,547.93 L1706.84,549.77 L1707.68,551.62 L1708.53,553.47 L1709.37,555.33 L1710.22,557.19 L1711.06,559.05 L1711.91,560.91 L1712.75,562.78 L1713.59,564.64 L1714.44,566.51 L1715.28,568.38 L1716.13,570.26 L1716.97,572.13 L1717.82,574.00 L1718.66,575.88 L1719.51,577.76 L1720.35,579.63 L1721.20,581.51 L1722.04,583.39 L1722.88,585.27 L1723.73,587.15 L1724.57,589.02 L1725.42,590.90 L1726.26,592.78 L1727.11,594.65 L1727.95,596.53 L1728.80,598.40 L1729.64,600.28 L1730.49,602.15 L1731.33,604.02 L1732.17,605.89 L1733.02,607.75 L1733.86,609.62 L1734.71,611.48 L1735.55,613.34 L1736.40,615.20 L1737.24,617.05 L1738.09,618.90 L1738.93,620.75 L1739.78,622.59 L1740.62,624.43 L1741.46,626.27 L1742.31,628.11 L1743.15,629.94 L1744.00,631.76 L1744.84,633.58 L1745.69,635.40 L1746.53,637.21 L1747.38,639.02 L1748.22,640.82 L1749.07,642.62 L1749.91,644.41 L1750.76,646.20 L1751.60,647.98 L1752.44,649.76 L1753.29,651.53 L1754.13,653.29 L1754.98,655.05 L1755.82,656.81 L1756.67,658.55 L1757.51,660.29 L1758.36,662.02 L1759.20,663.75 L1760.05,665.47 L1760.89,667.18 L1761.73,668.88 L1762.58,670.58 L1763.42,672.27 L1764.27,673.95 L1765.11,675.62 L1765.96,677.29 L1766.80,678.95 L1767.65,680.60 L1768.49,682.24 L1769.34,683.87 L1770.18,685.50 L1771.02,687.11 L1771.87,688.72 L1772.71,690.32 L1773.56,691.90 L1774.40,693.48 L1775.25,695.05 L1776.09,696.61 L1776.94,698.17 L1777.78,699.71 L1778.63,701.24 L1779.47,702.76 L1780.31,704.27 L1781.16,705.77 L1782.00,707.26 L1782.85,708.74 L1783.69,710.21 L1784.54,711.67 L1785.38,713.12 L1786.23,714.56 L1787.07,715.99 L1787.92,717.40 L1788.76,718.81 L1789.60,720.20 L1790.45,721.58 L1791.29,722.30" fill="none" stroke="#ff9600" stroke-width="1.75" stroke-linejoin="round" stroke-linecap="butt"/>
<path d="M1588.60,394.00 L1589.44,394.01 L1590.29,394.04 L1591.13,394.08 L1591.98,394.15 L1592.82,394.23 L1593.67,394.33 L1594.51,394.45 L1595.36,394.58 L1596.20,394.74 L1597.05,394.91 L1597.89,395.10 L1598.73,395.30 L1599.58,395.53 L1600.42,395.77 L1601.27,396.02 L1602.11,396.30 L1602.96,396.59 L1603.80,396.90 L1604.65,397.22 L1605.49,397.56 L1606.34,397.92 L1607.18,398.29 L1608.02,398.68 L1608.87,399.08 L1609.71,399.50 L1610.56,399.94 L1611.40,400.39 L1612.25,400.86 L1613.09,401.34 L1613.94,401.84 L1614.78,402.35 L1615.63,402.88 L1616.47,403.42 L1617.31,403.98 L1618.16,404.55 L1619.00,405.14 L1619.85,405.74 L1620.69,406.35 L1621.54,406.98 L1622.38,407.63 L1623.23,408.29 L1624.07,408.96 L1624.92,409.65 L1625.76,410.35 L1626.61,411.07 L1627.45,411.80 L1628.29,412.54 L1629.14,413.30 L1629.98,414.07 L1630.83,414.86 L1631.67,415.66 L1632.52,416.47 L1633.36,417.30 L1634.21,418.14 L1635.05,418.99 L1635.90,419.85 L1636.74,420.73 L1637.58,421.63 L1638.43,422.53 L1639.27,423.45 L1640.12,424.38 L1640.96,425.33 L1641.81,426.29 L1642.65,427.26 L1643.50,428.24 L1644.34,429.24 L1645.19,430.25 L1646.03,431.27 L1646.87,432.30 L1647.72,433.35 L1648.56,434.41 L1649.41,435.48 L1650.25,436.56 L1651.10,437.66 L1651.94,438.77 L1652.79,439.89 L1653.63,441.02 L1654.48,442.16 L1655.32,443.32 L1656.16,444.49 L1657.01,445.67 L1657.85,446.86 L1658.70,448.07 L1659.54,449.28 L1660.39,450.51 L1661.23,451.75 L1662.08,453.00 L1662.92,454.26 L1663.77,455.53 L1664.61,456.81 L1665.45,458.11 L1666.30,459.42 L1667.14,460.73 L1667.99,462.06 L1668.83,463.40 L1669.68,464.75 L1670.52,466.11 L1671.37,467.49 L1672.21,468.87 L1673.06,470.26 L1673.90,471.67 L1674.74,473.08 L1675.59,474.51 L1676.43,475.95 L1677.28,477.39 L1678.12,478.85 L1678.97,480.32 L1679.81,481.79 L1680.66,483.28 L1681.50,484.78 L1682.35,486.28 L1683.19,487.80 L1684.03,489.33 L1684.88,490.87 L1685.72,492.41 L1686.57,493.97 L1687.41,495.53 L1688.26,497.11 L1689.10,498.69 L1689.95,500.29 L1690.79,501.89 L1691.64,503.50 L1692.48,505.13 L1693.33,506.76 L1694.17,508.40 L1695.01,510.04 L1695.86,511.70 L1696.70,513.37 L1697.55,515.04 L1698.39,516.72 L1699.24,518.41 L1700.08,520.11 L1700.93,521.82 L1701.77,523.54 L1702.62,525.26 L1703.46,526.99 L1704.30,528.74 L1705.15,530.48 L1705.99,532.24 L1706.84,534.00 L1707.68,535.77 L1708.53,537.55 L1709.37,539.34 L1710.22,541.13 L1711.06,542.93 L1711.91,544.74 L1712.75,546.55 L1713.59,548.37 L1714.44,550.20 L1715.28,552.03 L1716.13,553.87 L1716.97,555.72 L1717.82,557.57 L1718.66,559.43 L1719.51,561.29 L1720.35,563.16 L1721.20,565.04 L1722.04,566.92 L1722.88,568.81 L1723.73,570.70 L1724.57,572.60 L1725.42,574.50 L1726.26,576.41 L1727.11,578.33 L1727.95,580.24 L1728.80,582.17 L1729.64,584.09 L1730.49,586.02 L1731.33,587.96 L1732.17,589.90 L1733.02,591.84 L1733.86,593.79 L1734.71,595.74 L1735.55,597.69 L1736.40,599.64 L1737.24,601.60 L1738.09,603.57 L1738.93,605.53 L1739.78,607.50 L1740.62,609.47 L1741.46,611.44 L1742.31,613.41 L1743.15,615.39 L1744.00,617.36 L1744.84,619.34 L1745.69,621.32 L1746.53,623.30 L1747.38,625.29 L1748.22,627.27 L1749.07,629.25 L1749.91,631.23 L1750.76,633.22 L1751.60,635.20 L1752.44,637.18 L1753.29,639.16 L1754.13,641.14 L1754.98,643.12 L1755.82,645.10 L1756.67,647.08 L1757.51,649.06 L1758.36,651.03 L1759.20,653.00 L1760.05,654.97 L1760.89,656.94 L1761.73,658.90 L1762.58,660.86 L1763.42,662.82 L1764.27,664.77 L1765.11,666.72 L1765.96,668.66 L1766.80,670.60 L1767.65,672.54 L1768.49,674.47 L1769.34,676.39 L1770.18,678.31 L1771.02,680.22 L1771.87,682.12 L1772.71,684.02 L1773.56,685.91 L1774.40,687.79 L1775.25,689.66 L1776.09,691.52 L1776.94,693.37 L1777.78,695.22 L1778.63,697.05 L1779.47,698.87 L1780.31,700.67 L1781.16,702.47 L1782.00,704.25 L1782.85,706.01 L1783.69,707.76 L1784.54,709.50 L1785.38,711.22 L1786.23,712.92 L1787.07,714.61 L1787.92,716.28 L1788.76,717.94 L1789.60,719.58 L1790.45,721.22 L1791.29,722.30" fill="none" stroke="#ff0000" stroke-width="1.7" stroke-linejoin="round" stroke-linecap="butt"/>
<path d="M1588.60,394.00 L1589.44,394.01 L1590.29,394.03 L1591.13,394.07 L1591.98,394.13 L1592.82,394.20 L1593.67,394.29 L1594.51,394.40 L1595.36,394.52 L1596.20,394.66 L1597.05,394.81 L1597.89,394.98 L1598.73,395.16 L1599.58,395.37 L1600.42,395.58 L1601.27,395.81 L1602.11,396.06 L1602.96,396.33 L1603.80,396.61 L1604.65,396.90 L1605.49,397.21 L1606.34,397.54 L1607.18,397.88 L1608.02,398.24 L1608.87,398.61 L1609.71,399.00 L1610.56,399.40 L1611.40,399.82 L1612.25,400.25 L1613.09,400.70 L1613.94,401.17 L1614.78,401.65 L1615.63,402.14 L1616.47,402.65 L1617.31,403.17 L1618.16,403.71 L1619.00,404.27 L1619.85,404.84 L1620.69,405.42 L1621.54,406.02 L1622.38,406.63 L1623.23,407.26 L1624.07,407.90 L1624.92,408.56 L1625.76,409.23 L1626.61,409.92 L1627.45,410.62 L1628.29,411.33 L1629.14,412.06 L1629.98,412.80 L1630.83,413.56 L1631.67,414.33 L1632.52,415.11 L1633.36,415.91 L1634.21,416.72 L1635.05,417.54 L1635.90,418.38 L1636.74,419.23 L1637.58,420.10 L1638.43,420.98 L1639.27,421.87 L1640.12,422.78 L1640.96,423.70 L1641.81,424.63 L1642.65,425.57 L1643.50,426.53 L1644.34,427.50 L1645.19,428.49 L1646.03,429.48 L1646.87,430.49 L1647.72,431.52 L1648.56,432.55 L1649.41,433.60 L1650.25,434.66 L1651.10,435.73 L1651.94,436.82 L1652.79,437.92 L1653.63,439.03 L1654.48,440.15 L1655.32,441.28 L1656.16,442.43 L1657.01,443.59 L1657.85,444.76 L1658.70,445.94 L1659.54,447.14 L1660.39,448.34 L1661.23,449.56 L1662.08,450.79 L1662.92,452.03 L1663.77,453.29 L1664.61,454.55 L1665.45,455.83 L1666.30,457.11 L1667.14,458.41 L1667.99,459.72 L1668.83,461.04 L1669.68,462.38 L1670.52,463.72 L1671.37,465.07 L1672.21,466.44 L1673.06,467.82 L1673.90,469.20 L1674.74,470.60 L1675.59,472.01 L1676.43,473.43 L1677.28,474.86 L1678.12,476.30 L1678.97,477.75 L1679.81,479.21 L1680.66,480.69 L1681.50,482.17 L1682.35,483.66 L1683.19,485.16 L1684.03,486.68 L1684.88,488.20 L1685.72,489.73 L1686.57,491.27 L1687.41,492.82 L1688.26,494.39 L1689.10,495.96 L1689.95,497.54 L1690.79,499.13 L1691.64,500.73 L1692.48,502.34 L1693.33,503.96 L1694.17,505.58 L1695.01,507.22 L1695.86,508.87 L1696.70,510.52 L1697.55,512.19 L1698.39,513.86 L1699.24,515.54 L1700.08,517.23 L1700.93,518.93 L1701.77,520.63 L1702.62,522.35 L1703.46,524.07 L1704.30,525.80 L1705.15,527.54 L1705.99,529.29 L1706.84,531.04 L1707.68,532.81 L1708.53,534.58 L1709.37,536.36 L1710.22,538.14 L1711.06,539.94 L1711.91,541.74 L1712.75,543.54 L1713.59,545.36 L1714.44,547.18 L1715.28,549.01 L1716.13,550.84 L1716.97,552.68 L1717.82,554.53 L1718.66,556.39 L1719.51,558.25 L1720.35,560.12 L1721.20,561.99 L1722.04,563.87 L1722.88,565.75 L1723.73,567.64 L1724.57,569.54 L1725.42,571.44 L1726.26,573.35 L1727.11,575.26 L1727.95,577.17 L1728.80,579.10 L1729.64,581.02 L1730.49,582.95 L1731.33,584.89 L1732.17,586.83 L1733.02,588.77 L1733.86,590.72 L1734.71,592.67 L1735.55,594.62 L1736.40,596.58 L1737.24,598.54 L1738.09,600.51 L1738.93,602.47 L1739.78,604.44 L1740.62,606.42 L1741.46,608.39 L1742.31,610.37 L1743.15,612.35 L1744.00,614.33 L1744.84,616.32 L1745.69,618.30 L1746.53,620.29 L1747.38,622.28 L1748.22,624.26 L1749.07,626.25 L1749.91,628.24 L1750.76,630.24 L1751.60,632.23 L1752.44,634.22 L1753.29,636.21 L1754.13,638.20 L1754.98,640.19 L1755.82,642.18 L1756.67,644.16 L1757.51,646.15 L1758.36,648.14 L1759.20,650.12 L1760.05,652.10 L1760.89,654.08 L1761.73,656.06 L1762.58,658.03 L1763.42,660.01 L1764.27,661.98 L1765.11,663.94 L1765.96,665.90 L1766.80,667.86 L1767.65,669.82 L1768.49,671.77 L1769.34,673.72 L1770.18,675.66 L1771.02,677.60 L1771.87,679.54 L1772.71,681.47 L1773.56,683.40 L1774.40,685.32 L1775.25,687.24 L1776.09,689.15 L1776.94,691.06 L1777.78,692.96 L1778.63,694.86 L1779.47,696.75 L1780.31,698.64 L1781.16,700.53 L1782.00,702.41 L1782.85,704.29 L1783.69,706.16 L1784.54,708.03 L1785.38,709.90 L1786.23,711.75 L1787.07,713.61 L1787.92,715.45 L1788.76,717.29 L1789.60,719.12 L1790.45,720.94 L1791.29,722.30" fill="none" stroke="#0000c8" stroke-width="1.7" stroke-linejoin="round" stroke-linecap="butt"/>
</g>
<rect x="1588.6" y="394.0" width="406.20" height="328.30" fill="none" stroke="#606060" stroke-width="1.6"/>
<line x1="1588.60" y1="722.3" x2="1588.60" y2="725.3" stroke="#333" stroke-width="1.2"/>
<line x1="1585.6" y1="722.30" x2="1588.6" y2="722.30" stroke="#333" stroke-width="1.2"/>
<text class="st" x="1588.60" y="741.5" font-size="18.2" text-anchor="middle" fill="#000">0.0</text>
<text class="st" x="1582.1999999999998" y="728.90" font-size="18.2" text-anchor="end" fill="#000">0.0</text>
<line x1="1669.84" y1="722.3" x2="1669.84" y2="725.3" stroke="#333" stroke-width="1.2"/>
<line x1="1585.6" y1="656.64" x2="1588.6" y2="656.64" stroke="#333" stroke-width="1.2"/>
<text class="st" x="1669.84" y="741.5" font-size="18.2" text-anchor="middle" fill="#000">0.2</text>
<text class="st" x="1582.1999999999998" y="663.24" font-size="18.2" text-anchor="end" fill="#000">0.2</text>
<line x1="1751.08" y1="722.3" x2="1751.08" y2="725.3" stroke="#333" stroke-width="1.2"/>
<line x1="1585.6" y1="590.98" x2="1588.6" y2="590.98" stroke="#333" stroke-width="1.2"/>
<text class="st" x="1751.08" y="741.5" font-size="18.2" text-anchor="middle" fill="#000">0.4</text>
<text class="st" x="1582.1999999999998" y="597.58" font-size="18.2" text-anchor="end" fill="#000">0.4</text>
<line x1="1832.32" y1="722.3" x2="1832.32" y2="725.3" stroke="#333" stroke-width="1.2"/>
<line x1="1585.6" y1="525.32" x2="1588.6" y2="525.32" stroke="#333" stroke-width="1.2"/>
<text class="st" x="1832.32" y="741.5" font-size="18.2" text-anchor="middle" fill="#000">0.6</text>
<text class="st" x="1582.1999999999998" y="531.92" font-size="18.2" text-anchor="end" fill="#000">0.6</text>
<line x1="1913.56" y1="722.3" x2="1913.56" y2="725.3" stroke="#333" stroke-width="1.2"/>
<line x1="1585.6" y1="459.66" x2="1588.6" y2="459.66" stroke="#333" stroke-width="1.2"/>
<text class="st" x="1913.56" y="741.5" font-size="18.2" text-anchor="middle" fill="#000">0.8</text>
<text class="st" x="1582.1999999999998" y="466.26" font-size="18.2" text-anchor="end" fill="#000">0.8</text>
<line x1="1994.80" y1="722.3" x2="1994.80" y2="725.3" stroke="#333" stroke-width="1.2"/>
<line x1="1585.6" y1="394.00" x2="1588.6" y2="394.00" stroke="#333" stroke-width="1.2"/>
<text class="st" x="1994.80" y="741.5" font-size="18.2" text-anchor="middle" fill="#000">1.0</text>
<text class="st" x="1582.1999999999998" y="400.60" font-size="18.2" text-anchor="end" fill="#000">1.0</text>
<text class="st" x="1791.70" y="762.5" font-size="18.4" text-anchor="middle" fill="#000">Frequency (cycles/pixel)</text>
<text class="st" transform="translate(1551.5,558.85) rotate(-90) scale(0.965,1.04)" font-size="18.4" text-anchor="middle" fill="#000">MTF</text>
<line x1="1730.3" y1="410" x2="1762.5" y2="410" stroke="#ff5a5a" stroke-width="1.6"/>
<text class="sl" x="1765.6" y="416.5" font-size="21.4" fill="#ff0000" stroke="#ff0000" textLength="199.9" lengthAdjust="spacing">Red monochrome MTF</text>
<line x1="1730.3" y1="435.5" x2="1762.5" y2="435.5" stroke="#5fa8dc" stroke-width="1.6"/>
<text class="sl" x="1765.6" y="442" font-size="21.4" fill="#005cae" stroke="#005cae" textLength="205.4" lengthAdjust="spacing">Blue monochrome MTF</text>
<line x1="1730.3" y1="461.5" x2="1762.5" y2="461.5" stroke="#ffc84a" stroke-width="1.6"/>
<text class="sl" x="1765.6" y="467.5" font-size="21.4" fill="#ffb000" stroke="#ffb000" textLength="224.4" lengthAdjust="spacing">Theory MTF(Blue &amp; Red)</text>
</svg>
</body></html>
